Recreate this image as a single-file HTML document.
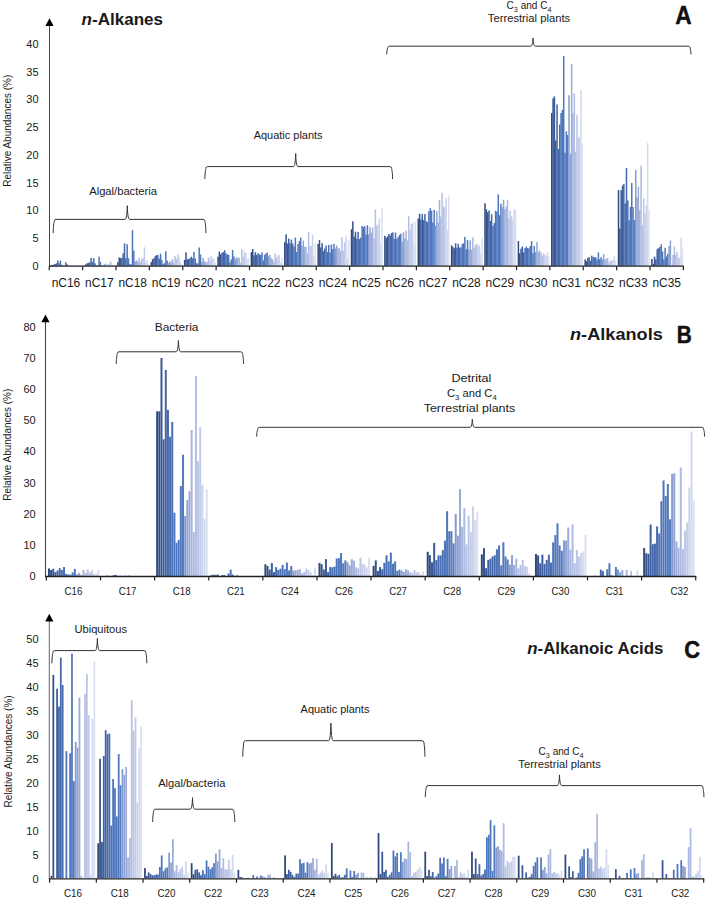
<!DOCTYPE html>
<html><head><meta charset="utf-8"><title>Figure</title>
<style>
html,body{margin:0;padding:0;background:#fff;}
svg{display:block;font-family:"Liberation Sans",sans-serif;fill:#1a1a1a;}
</style></head><body>
<svg width="708" height="900" viewBox="0 0 708 900">
<rect x="0" y="0" width="708" height="900" fill="#ffffff"/>
<rect x="50.40" y="265.30" width="1.50" height="0.50" fill="#30487a"/>
<rect x="51.73" y="265.00" width="1.50" height="0.80" fill="#34528c"/>
<rect x="53.05" y="264.60" width="1.50" height="1.20" fill="#395895"/>
<rect x="54.38" y="264.00" width="1.50" height="1.80" fill="#3d5e9d"/>
<rect x="55.70" y="263.30" width="1.50" height="2.50" fill="#4264a6"/>
<rect x="57.02" y="260.50" width="1.50" height="5.30" fill="#4468ab"/>
<rect x="58.35" y="263.30" width="1.50" height="2.50" fill="#476cb0"/>
<rect x="59.67" y="260.50" width="1.50" height="5.30" fill="#4a70b5"/>
<rect x="61.00" y="264.80" width="1.50" height="1.00" fill="#4c74ba"/>
<rect x="62.32" y="265.30" width="1.50" height="0.50" fill="#4e76bc"/>
<rect x="63.65" y="265.50" width="1.50" height="0.30" fill="#4f77bd"/>
<rect x="64.97" y="262.10" width="1.50" height="3.70" fill="#5078be"/>
<rect x="66.30" y="263.80" width="1.50" height="2.00" fill="#527ac0"/>
<rect x="67.62" y="265.30" width="1.50" height="0.50" fill="#869ace"/>
<rect x="68.95" y="265.50" width="1.50" height="0.30" fill="#91a3d3"/>
<rect x="70.28" y="265.50" width="1.50" height="0.30" fill="#9babd9"/>
<rect x="71.60" y="265.50" width="1.50" height="0.30" fill="#a6b4de"/>
<rect x="72.92" y="265.50" width="1.50" height="0.30" fill="#adbae1"/>
<rect x="74.25" y="265.50" width="1.50" height="0.30" fill="#b4c0e4"/>
<rect x="75.58" y="265.30" width="1.50" height="0.50" fill="#bbc5e6"/>
<rect x="76.90" y="265.30" width="1.50" height="0.50" fill="#c2cbe9"/>
<rect x="78.22" y="265.50" width="1.50" height="0.30" fill="#cad2ec"/>
<rect x="79.55" y="265.50" width="1.50" height="0.30" fill="#d3d9ee"/>
<rect x="80.88" y="265.50" width="1.50" height="0.30" fill="#dbe0f1"/>
<rect x="83.78" y="265.30" width="1.50" height="0.50" fill="#30487a"/>
<rect x="85.10" y="264.30" width="1.50" height="1.50" fill="#34528c"/>
<rect x="86.43" y="263.30" width="1.50" height="2.50" fill="#395895"/>
<rect x="87.75" y="262.80" width="1.50" height="3.00" fill="#3d5e9d"/>
<rect x="89.08" y="262.30" width="1.50" height="3.50" fill="#4264a6"/>
<rect x="90.40" y="257.90" width="1.50" height="7.90" fill="#4468ab"/>
<rect x="91.73" y="261.80" width="1.50" height="4.00" fill="#476cb0"/>
<rect x="93.05" y="258.10" width="1.50" height="7.70" fill="#4a70b5"/>
<rect x="94.38" y="263.30" width="1.50" height="2.50" fill="#4c74ba"/>
<rect x="95.70" y="265.30" width="1.50" height="0.50" fill="#4e76bc"/>
<rect x="97.03" y="265.30" width="1.50" height="0.50" fill="#4f77bd"/>
<rect x="98.35" y="256.70" width="1.50" height="9.10" fill="#5078be"/>
<rect x="99.68" y="261.80" width="1.50" height="4.00" fill="#527ac0"/>
<rect x="101.00" y="265.00" width="1.50" height="0.80" fill="#869ace"/>
<rect x="102.33" y="265.30" width="1.50" height="0.50" fill="#91a3d3"/>
<rect x="103.65" y="264.30" width="1.50" height="1.50" fill="#9babd9"/>
<rect x="104.98" y="263.60" width="1.50" height="2.20" fill="#a6b4de"/>
<rect x="106.30" y="265.30" width="1.50" height="0.50" fill="#adbae1"/>
<rect x="107.62" y="264.30" width="1.50" height="1.50" fill="#b4c0e4"/>
<rect x="108.95" y="262.80" width="1.50" height="3.00" fill="#bbc5e6"/>
<rect x="110.28" y="261.30" width="1.50" height="4.50" fill="#c2cbe9"/>
<rect x="111.60" y="264.80" width="1.50" height="1.00" fill="#cad2ec"/>
<rect x="112.93" y="265.30" width="1.50" height="0.50" fill="#d3d9ee"/>
<rect x="114.25" y="265.30" width="1.50" height="0.50" fill="#dbe0f1"/>
<rect x="117.15" y="262.10" width="1.50" height="3.70" fill="#30487a"/>
<rect x="118.48" y="257.50" width="1.50" height="8.30" fill="#34528c"/>
<rect x="119.80" y="258.20" width="1.50" height="7.60" fill="#395895"/>
<rect x="121.12" y="257.70" width="1.50" height="8.10" fill="#3d5e9d"/>
<rect x="122.45" y="253.20" width="1.50" height="12.60" fill="#4264a6"/>
<rect x="123.78" y="243.30" width="1.50" height="22.50" fill="#4468ab"/>
<rect x="125.10" y="258.20" width="1.50" height="7.60" fill="#476cb0"/>
<rect x="126.43" y="244.30" width="1.50" height="21.50" fill="#4a70b5"/>
<rect x="127.75" y="258.20" width="1.50" height="7.60" fill="#4c74ba"/>
<rect x="129.08" y="264.10" width="1.50" height="1.70" fill="#4e76bc"/>
<rect x="130.40" y="264.30" width="1.50" height="1.50" fill="#4f77bd"/>
<rect x="131.72" y="230.20" width="1.50" height="35.60" fill="#5078be"/>
<rect x="133.05" y="250.60" width="1.50" height="15.20" fill="#527ac0"/>
<rect x="134.38" y="261.60" width="1.50" height="4.20" fill="#869ace"/>
<rect x="135.70" y="260.20" width="1.50" height="5.60" fill="#91a3d3"/>
<rect x="137.03" y="262.10" width="1.50" height="3.70" fill="#9babd9"/>
<rect x="138.35" y="257.70" width="1.50" height="8.10" fill="#a6b4de"/>
<rect x="139.68" y="262.10" width="1.50" height="3.70" fill="#adbae1"/>
<rect x="141.00" y="258.80" width="1.50" height="7.00" fill="#b4c0e4"/>
<rect x="142.33" y="258.20" width="1.50" height="7.60" fill="#bbc5e6"/>
<rect x="143.65" y="247.30" width="1.50" height="18.50" fill="#c2cbe9"/>
<rect x="144.97" y="262.10" width="1.50" height="3.70" fill="#cad2ec"/>
<rect x="146.30" y="259.80" width="1.50" height="6.00" fill="#d3d9ee"/>
<rect x="147.62" y="263.80" width="1.50" height="2.00" fill="#dbe0f1"/>
<rect x="150.53" y="262.10" width="1.50" height="3.70" fill="#30487a"/>
<rect x="151.85" y="259.20" width="1.50" height="6.60" fill="#34528c"/>
<rect x="153.18" y="258.20" width="1.50" height="7.60" fill="#395895"/>
<rect x="154.50" y="256.20" width="1.50" height="9.60" fill="#3d5e9d"/>
<rect x="155.83" y="255.00" width="1.50" height="10.80" fill="#4264a6"/>
<rect x="157.15" y="255.20" width="1.50" height="10.60" fill="#4468ab"/>
<rect x="158.47" y="258.70" width="1.50" height="7.10" fill="#476cb0"/>
<rect x="159.80" y="253.70" width="1.50" height="12.10" fill="#4a70b5"/>
<rect x="161.12" y="260.20" width="1.50" height="5.60" fill="#4c74ba"/>
<rect x="162.45" y="264.10" width="1.50" height="1.70" fill="#4e76bc"/>
<rect x="163.78" y="263.10" width="1.50" height="2.70" fill="#4f77bd"/>
<rect x="165.10" y="251.30" width="1.50" height="14.50" fill="#5078be"/>
<rect x="166.43" y="260.70" width="1.50" height="5.10" fill="#527ac0"/>
<rect x="167.75" y="263.10" width="1.50" height="2.70" fill="#869ace"/>
<rect x="169.08" y="261.20" width="1.50" height="4.60" fill="#91a3d3"/>
<rect x="170.40" y="262.10" width="1.50" height="3.70" fill="#9babd9"/>
<rect x="171.72" y="259.20" width="1.50" height="6.60" fill="#a6b4de"/>
<rect x="173.05" y="262.60" width="1.50" height="3.20" fill="#adbae1"/>
<rect x="174.38" y="256.20" width="1.50" height="9.60" fill="#b4c0e4"/>
<rect x="175.70" y="258.70" width="1.50" height="7.10" fill="#bbc5e6"/>
<rect x="177.03" y="254.20" width="1.50" height="11.60" fill="#c2cbe9"/>
<rect x="178.35" y="257.20" width="1.50" height="8.60" fill="#cad2ec"/>
<rect x="179.68" y="261.60" width="1.50" height="4.20" fill="#d3d9ee"/>
<rect x="181.00" y="264.10" width="1.50" height="1.70" fill="#dbe0f1"/>
<rect x="183.90" y="259.90" width="1.50" height="5.90" fill="#30487a"/>
<rect x="185.22" y="252.40" width="1.50" height="13.40" fill="#34528c"/>
<rect x="186.55" y="259.40" width="1.50" height="6.40" fill="#395895"/>
<rect x="187.88" y="258.90" width="1.50" height="6.90" fill="#3d5e9d"/>
<rect x="189.20" y="258.40" width="1.50" height="7.40" fill="#4264a6"/>
<rect x="190.53" y="256.70" width="1.50" height="9.10" fill="#4468ab"/>
<rect x="191.85" y="258.40" width="1.50" height="7.40" fill="#476cb0"/>
<rect x="193.18" y="251.80" width="1.50" height="14.00" fill="#4a70b5"/>
<rect x="194.50" y="258.40" width="1.50" height="7.40" fill="#4c74ba"/>
<rect x="195.83" y="263.30" width="1.50" height="2.50" fill="#4e76bc"/>
<rect x="197.15" y="263.30" width="1.50" height="2.50" fill="#4f77bd"/>
<rect x="198.47" y="247.50" width="1.50" height="18.30" fill="#5078be"/>
<rect x="199.80" y="254.40" width="1.50" height="11.40" fill="#527ac0"/>
<rect x="201.12" y="261.80" width="1.50" height="4.00" fill="#869ace"/>
<rect x="202.45" y="257.90" width="1.50" height="7.90" fill="#91a3d3"/>
<rect x="203.78" y="261.30" width="1.50" height="4.50" fill="#9babd9"/>
<rect x="205.10" y="261.80" width="1.50" height="4.00" fill="#a6b4de"/>
<rect x="206.43" y="262.30" width="1.50" height="3.50" fill="#adbae1"/>
<rect x="207.75" y="257.40" width="1.50" height="8.40" fill="#b4c0e4"/>
<rect x="209.08" y="260.40" width="1.50" height="5.40" fill="#bbc5e6"/>
<rect x="210.40" y="255.90" width="1.50" height="9.90" fill="#c2cbe9"/>
<rect x="211.72" y="258.40" width="1.50" height="7.40" fill="#cad2ec"/>
<rect x="213.05" y="258.90" width="1.50" height="6.90" fill="#d3d9ee"/>
<rect x="214.38" y="262.30" width="1.50" height="3.50" fill="#dbe0f1"/>
<rect x="217.28" y="256.70" width="1.50" height="9.10" fill="#30487a"/>
<rect x="218.60" y="251.50" width="1.50" height="14.30" fill="#34528c"/>
<rect x="219.93" y="254.40" width="1.50" height="11.40" fill="#395895"/>
<rect x="221.25" y="252.90" width="1.50" height="12.90" fill="#3d5e9d"/>
<rect x="222.58" y="252.00" width="1.50" height="13.80" fill="#4264a6"/>
<rect x="223.90" y="250.20" width="1.50" height="15.60" fill="#4468ab"/>
<rect x="225.22" y="253.40" width="1.50" height="12.40" fill="#476cb0"/>
<rect x="226.55" y="254.40" width="1.50" height="11.40" fill="#4a70b5"/>
<rect x="227.88" y="254.90" width="1.50" height="10.90" fill="#4c74ba"/>
<rect x="229.20" y="262.30" width="1.50" height="3.50" fill="#4e76bc"/>
<rect x="230.53" y="259.40" width="1.50" height="6.40" fill="#4f77bd"/>
<rect x="231.85" y="250.00" width="1.50" height="15.80" fill="#5078be"/>
<rect x="233.18" y="256.40" width="1.50" height="9.40" fill="#527ac0"/>
<rect x="234.50" y="259.40" width="1.50" height="6.40" fill="#869ace"/>
<rect x="235.83" y="257.40" width="1.50" height="8.40" fill="#91a3d3"/>
<rect x="237.15" y="257.40" width="1.50" height="8.40" fill="#9babd9"/>
<rect x="238.47" y="257.90" width="1.50" height="7.90" fill="#a6b4de"/>
<rect x="239.80" y="262.80" width="1.50" height="3.00" fill="#adbae1"/>
<rect x="241.12" y="249.00" width="1.50" height="16.80" fill="#b4c0e4"/>
<rect x="242.45" y="256.90" width="1.50" height="8.90" fill="#bbc5e6"/>
<rect x="243.78" y="251.50" width="1.50" height="14.30" fill="#c2cbe9"/>
<rect x="245.10" y="252.90" width="1.50" height="12.90" fill="#cad2ec"/>
<rect x="246.43" y="259.40" width="1.50" height="6.40" fill="#d3d9ee"/>
<rect x="247.75" y="257.90" width="1.50" height="7.90" fill="#dbe0f1"/>
<rect x="250.65" y="252.20" width="1.50" height="13.60" fill="#30487a"/>
<rect x="251.97" y="249.00" width="1.50" height="16.80" fill="#34528c"/>
<rect x="253.30" y="255.40" width="1.50" height="10.40" fill="#395895"/>
<rect x="254.62" y="252.20" width="1.50" height="13.60" fill="#3d5e9d"/>
<rect x="255.95" y="254.90" width="1.50" height="10.90" fill="#4264a6"/>
<rect x="257.27" y="253.20" width="1.50" height="12.60" fill="#4468ab"/>
<rect x="258.60" y="254.40" width="1.50" height="11.40" fill="#476cb0"/>
<rect x="259.93" y="254.90" width="1.50" height="10.90" fill="#4a70b5"/>
<rect x="261.25" y="252.40" width="1.50" height="13.40" fill="#4c74ba"/>
<rect x="262.57" y="260.40" width="1.50" height="5.40" fill="#4e76bc"/>
<rect x="263.90" y="254.90" width="1.50" height="10.90" fill="#4f77bd"/>
<rect x="265.23" y="253.40" width="1.50" height="12.40" fill="#5078be"/>
<rect x="266.55" y="252.70" width="1.50" height="13.10" fill="#527ac0"/>
<rect x="267.88" y="256.40" width="1.50" height="9.40" fill="#869ace"/>
<rect x="269.20" y="254.90" width="1.50" height="10.90" fill="#91a3d3"/>
<rect x="270.52" y="258.40" width="1.50" height="7.40" fill="#9babd9"/>
<rect x="271.85" y="258.90" width="1.50" height="6.90" fill="#a6b4de"/>
<rect x="273.18" y="261.80" width="1.50" height="4.00" fill="#adbae1"/>
<rect x="274.50" y="253.70" width="1.50" height="12.10" fill="#b4c0e4"/>
<rect x="275.82" y="257.90" width="1.50" height="7.90" fill="#bbc5e6"/>
<rect x="277.15" y="255.40" width="1.50" height="10.40" fill="#c2cbe9"/>
<rect x="278.48" y="254.90" width="1.50" height="10.90" fill="#cad2ec"/>
<rect x="279.80" y="262.80" width="1.50" height="3.00" fill="#d3d9ee"/>
<rect x="281.12" y="257.40" width="1.50" height="8.40" fill="#dbe0f1"/>
<rect x="284.02" y="242.10" width="1.50" height="23.70" fill="#30487a"/>
<rect x="285.35" y="234.30" width="1.50" height="31.50" fill="#34528c"/>
<rect x="286.67" y="243.50" width="1.50" height="22.30" fill="#395895"/>
<rect x="288.00" y="238.60" width="1.50" height="27.20" fill="#3d5e9d"/>
<rect x="289.32" y="243.50" width="1.50" height="22.30" fill="#4264a6"/>
<rect x="290.65" y="239.60" width="1.50" height="26.20" fill="#4468ab"/>
<rect x="291.97" y="243.50" width="1.50" height="22.30" fill="#476cb0"/>
<rect x="293.30" y="246.50" width="1.50" height="19.30" fill="#4a70b5"/>
<rect x="294.62" y="237.60" width="1.50" height="28.20" fill="#4c74ba"/>
<rect x="295.95" y="252.00" width="1.50" height="13.80" fill="#4e76bc"/>
<rect x="297.27" y="244.00" width="1.50" height="21.80" fill="#4f77bd"/>
<rect x="298.60" y="241.10" width="1.50" height="24.70" fill="#5078be"/>
<rect x="299.92" y="237.60" width="1.50" height="28.20" fill="#527ac0"/>
<rect x="301.25" y="246.00" width="1.50" height="19.80" fill="#869ace"/>
<rect x="302.57" y="240.60" width="1.50" height="25.20" fill="#91a3d3"/>
<rect x="303.90" y="247.00" width="1.50" height="18.80" fill="#9babd9"/>
<rect x="305.22" y="246.50" width="1.50" height="19.30" fill="#a6b4de"/>
<rect x="306.55" y="252.90" width="1.50" height="12.90" fill="#adbae1"/>
<rect x="307.88" y="231.70" width="1.50" height="34.10" fill="#b4c0e4"/>
<rect x="309.20" y="246.00" width="1.50" height="19.80" fill="#bbc5e6"/>
<rect x="310.52" y="246.00" width="1.50" height="19.80" fill="#c2cbe9"/>
<rect x="311.85" y="234.60" width="1.50" height="31.20" fill="#cad2ec"/>
<rect x="313.17" y="255.90" width="1.50" height="9.90" fill="#d3d9ee"/>
<rect x="314.50" y="243.50" width="1.50" height="22.30" fill="#dbe0f1"/>
<rect x="317.40" y="244.00" width="1.50" height="21.80" fill="#30487a"/>
<rect x="318.72" y="240.10" width="1.50" height="25.70" fill="#34528c"/>
<rect x="320.05" y="247.50" width="1.50" height="18.30" fill="#395895"/>
<rect x="321.38" y="243.10" width="1.50" height="22.70" fill="#3d5e9d"/>
<rect x="322.70" y="251.00" width="1.50" height="14.80" fill="#4264a6"/>
<rect x="324.02" y="248.50" width="1.50" height="17.30" fill="#4468ab"/>
<rect x="325.35" y="245.50" width="1.50" height="20.30" fill="#476cb0"/>
<rect x="326.67" y="252.00" width="1.50" height="13.80" fill="#4a70b5"/>
<rect x="328.00" y="245.00" width="1.50" height="20.80" fill="#4c74ba"/>
<rect x="329.32" y="252.40" width="1.50" height="13.40" fill="#4e76bc"/>
<rect x="330.65" y="244.50" width="1.50" height="21.30" fill="#4f77bd"/>
<rect x="331.97" y="249.00" width="1.50" height="16.80" fill="#5078be"/>
<rect x="333.30" y="244.00" width="1.50" height="21.80" fill="#527ac0"/>
<rect x="334.62" y="248.50" width="1.50" height="17.30" fill="#869ace"/>
<rect x="335.95" y="245.50" width="1.50" height="20.30" fill="#91a3d3"/>
<rect x="337.27" y="248.50" width="1.50" height="17.30" fill="#9babd9"/>
<rect x="338.60" y="248.00" width="1.50" height="17.80" fill="#a6b4de"/>
<rect x="339.92" y="251.00" width="1.50" height="14.80" fill="#adbae1"/>
<rect x="341.25" y="237.10" width="1.50" height="28.70" fill="#b4c0e4"/>
<rect x="342.57" y="250.50" width="1.50" height="15.30" fill="#bbc5e6"/>
<rect x="343.90" y="242.10" width="1.50" height="23.70" fill="#c2cbe9"/>
<rect x="345.22" y="236.40" width="1.50" height="29.40" fill="#cad2ec"/>
<rect x="346.55" y="258.40" width="1.50" height="7.40" fill="#d3d9ee"/>
<rect x="347.88" y="239.60" width="1.50" height="26.20" fill="#dbe0f1"/>
<rect x="350.77" y="229.20" width="1.50" height="36.60" fill="#30487a"/>
<rect x="352.10" y="221.30" width="1.50" height="44.50" fill="#34528c"/>
<rect x="353.42" y="236.60" width="1.50" height="29.20" fill="#395895"/>
<rect x="354.75" y="231.70" width="1.50" height="34.10" fill="#3d5e9d"/>
<rect x="356.07" y="238.60" width="1.50" height="27.20" fill="#4264a6"/>
<rect x="357.40" y="231.90" width="1.50" height="33.90" fill="#4468ab"/>
<rect x="358.72" y="239.10" width="1.50" height="26.70" fill="#476cb0"/>
<rect x="360.05" y="237.60" width="1.50" height="28.20" fill="#4a70b5"/>
<rect x="361.38" y="225.90" width="1.50" height="39.90" fill="#4c74ba"/>
<rect x="362.70" y="227.20" width="1.50" height="38.60" fill="#4e76bc"/>
<rect x="364.02" y="226.20" width="1.50" height="39.60" fill="#4f77bd"/>
<rect x="365.35" y="234.60" width="1.50" height="31.20" fill="#5078be"/>
<rect x="366.67" y="225.20" width="1.50" height="40.60" fill="#527ac0"/>
<rect x="368.00" y="234.20" width="1.50" height="31.60" fill="#869ace"/>
<rect x="369.32" y="227.20" width="1.50" height="38.60" fill="#91a3d3"/>
<rect x="370.65" y="232.70" width="1.50" height="33.10" fill="#9babd9"/>
<rect x="371.97" y="227.50" width="1.50" height="38.30" fill="#a6b4de"/>
<rect x="373.30" y="238.60" width="1.50" height="27.20" fill="#adbae1"/>
<rect x="374.62" y="209.40" width="1.50" height="56.40" fill="#b4c0e4"/>
<rect x="375.95" y="225.70" width="1.50" height="40.10" fill="#bbc5e6"/>
<rect x="377.27" y="224.30" width="1.50" height="41.50" fill="#c2cbe9"/>
<rect x="378.60" y="218.80" width="1.50" height="47.00" fill="#cad2ec"/>
<rect x="379.92" y="243.10" width="1.50" height="22.70" fill="#d3d9ee"/>
<rect x="381.25" y="208.40" width="1.50" height="57.40" fill="#dbe0f1"/>
<rect x="384.15" y="235.90" width="1.50" height="29.90" fill="#30487a"/>
<rect x="385.47" y="237.90" width="1.50" height="27.90" fill="#34528c"/>
<rect x="386.80" y="236.40" width="1.50" height="29.40" fill="#395895"/>
<rect x="388.12" y="234.00" width="1.50" height="31.80" fill="#3d5e9d"/>
<rect x="389.45" y="235.40" width="1.50" height="30.40" fill="#4264a6"/>
<rect x="390.77" y="233.00" width="1.50" height="32.80" fill="#4468ab"/>
<rect x="392.10" y="232.30" width="1.50" height="33.50" fill="#476cb0"/>
<rect x="393.42" y="238.90" width="1.50" height="26.90" fill="#4a70b5"/>
<rect x="394.75" y="232.50" width="1.50" height="33.30" fill="#4c74ba"/>
<rect x="396.07" y="238.90" width="1.50" height="26.90" fill="#4e76bc"/>
<rect x="397.40" y="236.90" width="1.50" height="28.90" fill="#4f77bd"/>
<rect x="398.72" y="234.90" width="1.50" height="30.90" fill="#5078be"/>
<rect x="400.05" y="233.70" width="1.50" height="32.10" fill="#527ac0"/>
<rect x="401.38" y="241.90" width="1.50" height="23.90" fill="#869ace"/>
<rect x="402.70" y="232.30" width="1.50" height="33.50" fill="#91a3d3"/>
<rect x="404.02" y="238.40" width="1.50" height="27.40" fill="#9babd9"/>
<rect x="405.35" y="230.50" width="1.50" height="35.30" fill="#a6b4de"/>
<rect x="406.67" y="240.40" width="1.50" height="25.40" fill="#adbae1"/>
<rect x="408.00" y="216.10" width="1.50" height="49.70" fill="#b4c0e4"/>
<rect x="409.32" y="230.00" width="1.50" height="35.80" fill="#bbc5e6"/>
<rect x="410.65" y="224.10" width="1.50" height="41.70" fill="#c2cbe9"/>
<rect x="411.97" y="222.60" width="1.50" height="43.20" fill="#cad2ec"/>
<rect x="413.30" y="244.30" width="1.50" height="21.50" fill="#d3d9ee"/>
<rect x="414.62" y="221.60" width="1.50" height="44.20" fill="#dbe0f1"/>
<rect x="417.52" y="218.60" width="1.50" height="47.20" fill="#30487a"/>
<rect x="418.85" y="213.70" width="1.50" height="52.10" fill="#34528c"/>
<rect x="420.17" y="219.60" width="1.50" height="46.20" fill="#395895"/>
<rect x="421.50" y="214.00" width="1.50" height="51.80" fill="#3d5e9d"/>
<rect x="422.82" y="220.10" width="1.50" height="45.70" fill="#4264a6"/>
<rect x="424.15" y="214.00" width="1.50" height="51.80" fill="#4468ab"/>
<rect x="425.47" y="221.10" width="1.50" height="44.70" fill="#476cb0"/>
<rect x="426.80" y="222.10" width="1.50" height="43.70" fill="#4a70b5"/>
<rect x="428.12" y="211.20" width="1.50" height="54.60" fill="#4c74ba"/>
<rect x="429.45" y="208.20" width="1.50" height="57.60" fill="#4e76bc"/>
<rect x="430.77" y="210.70" width="1.50" height="55.10" fill="#4f77bd"/>
<rect x="432.10" y="222.60" width="1.50" height="43.20" fill="#5078be"/>
<rect x="433.42" y="209.90" width="1.50" height="55.90" fill="#527ac0"/>
<rect x="434.75" y="225.50" width="1.50" height="40.30" fill="#869ace"/>
<rect x="436.07" y="211.20" width="1.50" height="54.60" fill="#91a3d3"/>
<rect x="437.40" y="222.60" width="1.50" height="43.20" fill="#9babd9"/>
<rect x="438.72" y="199.80" width="1.50" height="66.00" fill="#a6b4de"/>
<rect x="440.05" y="216.60" width="1.50" height="49.20" fill="#adbae1"/>
<rect x="441.38" y="192.90" width="1.50" height="72.90" fill="#b4c0e4"/>
<rect x="442.70" y="206.30" width="1.50" height="59.50" fill="#bbc5e6"/>
<rect x="444.02" y="207.80" width="1.50" height="58.00" fill="#c2cbe9"/>
<rect x="445.35" y="197.80" width="1.50" height="68.00" fill="#cad2ec"/>
<rect x="446.67" y="230.50" width="1.50" height="35.30" fill="#d3d9ee"/>
<rect x="448.00" y="195.40" width="1.50" height="70.40" fill="#dbe0f1"/>
<rect x="450.90" y="245.50" width="1.50" height="20.30" fill="#30487a"/>
<rect x="452.22" y="247.10" width="1.50" height="18.70" fill="#34528c"/>
<rect x="453.55" y="248.30" width="1.50" height="17.50" fill="#395895"/>
<rect x="454.88" y="243.30" width="1.50" height="22.50" fill="#3d5e9d"/>
<rect x="456.20" y="247.80" width="1.50" height="18.00" fill="#4264a6"/>
<rect x="457.52" y="243.80" width="1.50" height="22.00" fill="#4468ab"/>
<rect x="458.85" y="247.50" width="1.50" height="18.30" fill="#476cb0"/>
<rect x="460.17" y="247.50" width="1.50" height="18.30" fill="#4a70b5"/>
<rect x="461.50" y="244.10" width="1.50" height="21.70" fill="#4c74ba"/>
<rect x="462.82" y="243.10" width="1.50" height="22.70" fill="#4e76bc"/>
<rect x="464.15" y="236.90" width="1.50" height="28.90" fill="#4f77bd"/>
<rect x="465.47" y="249.30" width="1.50" height="16.50" fill="#5078be"/>
<rect x="466.80" y="239.90" width="1.50" height="25.90" fill="#527ac0"/>
<rect x="468.12" y="249.30" width="1.50" height="16.50" fill="#869ace"/>
<rect x="469.45" y="240.40" width="1.50" height="25.40" fill="#91a3d3"/>
<rect x="470.77" y="249.80" width="1.50" height="16.00" fill="#9babd9"/>
<rect x="472.10" y="237.40" width="1.50" height="28.40" fill="#a6b4de"/>
<rect x="473.42" y="248.30" width="1.50" height="17.50" fill="#adbae1"/>
<rect x="474.75" y="244.80" width="1.50" height="21.00" fill="#b4c0e4"/>
<rect x="476.07" y="243.80" width="1.50" height="22.00" fill="#bbc5e6"/>
<rect x="477.40" y="246.30" width="1.50" height="19.50" fill="#c2cbe9"/>
<rect x="478.72" y="245.50" width="1.50" height="20.30" fill="#cad2ec"/>
<rect x="480.05" y="253.70" width="1.50" height="12.10" fill="#d3d9ee"/>
<rect x="481.38" y="237.90" width="1.50" height="27.90" fill="#dbe0f1"/>
<rect x="484.27" y="203.30" width="1.50" height="62.50" fill="#30487a"/>
<rect x="485.60" y="209.20" width="1.50" height="56.60" fill="#34528c"/>
<rect x="486.92" y="212.20" width="1.50" height="53.60" fill="#395895"/>
<rect x="488.25" y="210.50" width="1.50" height="55.30" fill="#3d5e9d"/>
<rect x="489.57" y="221.10" width="1.50" height="44.70" fill="#4264a6"/>
<rect x="490.90" y="214.20" width="1.50" height="51.60" fill="#4468ab"/>
<rect x="492.22" y="226.00" width="1.50" height="39.80" fill="#476cb0"/>
<rect x="493.55" y="223.10" width="1.50" height="42.70" fill="#4a70b5"/>
<rect x="494.88" y="210.70" width="1.50" height="55.10" fill="#4c74ba"/>
<rect x="496.20" y="211.70" width="1.50" height="54.10" fill="#4e76bc"/>
<rect x="497.52" y="194.40" width="1.50" height="71.40" fill="#4f77bd"/>
<rect x="498.85" y="215.20" width="1.50" height="50.60" fill="#5078be"/>
<rect x="500.17" y="203.80" width="1.50" height="62.00" fill="#527ac0"/>
<rect x="501.50" y="207.20" width="1.50" height="58.60" fill="#869ace"/>
<rect x="502.82" y="199.80" width="1.50" height="66.00" fill="#91a3d3"/>
<rect x="504.15" y="209.20" width="1.50" height="56.60" fill="#9babd9"/>
<rect x="505.47" y="206.30" width="1.50" height="59.50" fill="#a6b4de"/>
<rect x="506.80" y="199.80" width="1.50" height="66.00" fill="#adbae1"/>
<rect x="508.12" y="218.10" width="1.50" height="47.70" fill="#b4c0e4"/>
<rect x="509.45" y="210.70" width="1.50" height="55.10" fill="#bbc5e6"/>
<rect x="510.77" y="216.10" width="1.50" height="49.70" fill="#c2cbe9"/>
<rect x="512.10" y="219.60" width="1.50" height="46.20" fill="#cad2ec"/>
<rect x="513.42" y="209.20" width="1.50" height="56.60" fill="#d3d9ee"/>
<rect x="514.75" y="209.70" width="1.50" height="56.10" fill="#dbe0f1"/>
<rect x="517.65" y="241.10" width="1.50" height="24.70" fill="#30487a"/>
<rect x="518.98" y="253.20" width="1.50" height="12.60" fill="#34528c"/>
<rect x="520.30" y="248.70" width="1.50" height="17.10" fill="#395895"/>
<rect x="521.62" y="246.40" width="1.50" height="19.40" fill="#3d5e9d"/>
<rect x="522.95" y="252.40" width="1.50" height="13.40" fill="#4264a6"/>
<rect x="524.27" y="248.10" width="1.50" height="17.70" fill="#4468ab"/>
<rect x="525.60" y="246.70" width="1.50" height="19.10" fill="#476cb0"/>
<rect x="526.92" y="248.10" width="1.50" height="17.70" fill="#4a70b5"/>
<rect x="528.25" y="248.40" width="1.50" height="17.40" fill="#4c74ba"/>
<rect x="529.57" y="245.90" width="1.50" height="19.90" fill="#4e76bc"/>
<rect x="530.90" y="241.10" width="1.50" height="24.70" fill="#4f77bd"/>
<rect x="532.23" y="253.20" width="1.50" height="12.60" fill="#5078be"/>
<rect x="533.55" y="246.10" width="1.50" height="19.70" fill="#527ac0"/>
<rect x="534.88" y="252.10" width="1.50" height="13.70" fill="#869ace"/>
<rect x="536.20" y="241.90" width="1.50" height="23.90" fill="#91a3d3"/>
<rect x="537.52" y="252.40" width="1.50" height="13.40" fill="#9babd9"/>
<rect x="538.85" y="250.40" width="1.50" height="15.40" fill="#a6b4de"/>
<rect x="540.17" y="252.60" width="1.50" height="13.20" fill="#adbae1"/>
<rect x="541.50" y="255.70" width="1.50" height="10.10" fill="#b4c0e4"/>
<rect x="542.82" y="253.20" width="1.50" height="12.60" fill="#bbc5e6"/>
<rect x="544.15" y="254.90" width="1.50" height="10.90" fill="#c2cbe9"/>
<rect x="545.48" y="255.70" width="1.50" height="10.10" fill="#cad2ec"/>
<rect x="546.80" y="252.40" width="1.50" height="13.40" fill="#d3d9ee"/>
<rect x="548.12" y="256.60" width="1.50" height="9.20" fill="#dbe0f1"/>
<rect x="551.02" y="113.00" width="1.50" height="152.80" fill="#30487a"/>
<rect x="552.35" y="98.30" width="1.50" height="167.50" fill="#34528c"/>
<rect x="553.67" y="96.50" width="1.50" height="169.30" fill="#395895"/>
<rect x="555.00" y="140.50" width="1.50" height="125.30" fill="#3d5e9d"/>
<rect x="556.32" y="104.40" width="1.50" height="161.40" fill="#4264a6"/>
<rect x="557.65" y="149.00" width="1.50" height="116.80" fill="#4468ab"/>
<rect x="558.98" y="124.60" width="1.50" height="141.20" fill="#476cb0"/>
<rect x="560.30" y="113.00" width="1.50" height="152.80" fill="#4a70b5"/>
<rect x="561.62" y="109.90" width="1.50" height="155.90" fill="#4c74ba"/>
<rect x="562.95" y="56.10" width="1.50" height="209.70" fill="#4e76bc"/>
<rect x="564.27" y="152.70" width="1.50" height="113.10" fill="#4f77bd"/>
<rect x="565.60" y="131.30" width="1.50" height="134.50" fill="#5078be"/>
<rect x="566.92" y="135.00" width="1.50" height="130.80" fill="#527ac0"/>
<rect x="568.25" y="95.20" width="1.50" height="170.60" fill="#869ace"/>
<rect x="569.57" y="153.90" width="1.50" height="111.90" fill="#91a3d3"/>
<rect x="570.90" y="64.10" width="1.50" height="201.70" fill="#9babd9"/>
<rect x="572.23" y="113.00" width="1.50" height="152.80" fill="#a6b4de"/>
<rect x="573.55" y="93.40" width="1.50" height="172.40" fill="#adbae1"/>
<rect x="574.88" y="151.50" width="1.50" height="114.30" fill="#b4c0e4"/>
<rect x="576.20" y="114.80" width="1.50" height="151.00" fill="#bbc5e6"/>
<rect x="577.52" y="137.40" width="1.50" height="128.40" fill="#c2cbe9"/>
<rect x="578.85" y="137.40" width="1.50" height="128.40" fill="#cad2ec"/>
<rect x="580.17" y="89.70" width="1.50" height="176.10" fill="#d3d9ee"/>
<rect x="581.50" y="143.50" width="1.50" height="122.30" fill="#dbe0f1"/>
<rect x="584.40" y="259.40" width="1.50" height="6.40" fill="#30487a"/>
<rect x="585.73" y="261.10" width="1.50" height="4.70" fill="#34528c"/>
<rect x="587.05" y="258.00" width="1.50" height="7.80" fill="#395895"/>
<rect x="588.38" y="257.20" width="1.50" height="8.60" fill="#3d5e9d"/>
<rect x="589.70" y="260.80" width="1.50" height="5.00" fill="#4264a6"/>
<rect x="591.02" y="255.70" width="1.50" height="10.10" fill="#4468ab"/>
<rect x="592.35" y="256.90" width="1.50" height="8.90" fill="#476cb0"/>
<rect x="593.67" y="257.20" width="1.50" height="8.60" fill="#4a70b5"/>
<rect x="595.00" y="257.40" width="1.50" height="8.40" fill="#4c74ba"/>
<rect x="596.32" y="259.40" width="1.50" height="6.40" fill="#4e76bc"/>
<rect x="597.65" y="252.40" width="1.50" height="13.40" fill="#4f77bd"/>
<rect x="598.98" y="259.40" width="1.50" height="6.40" fill="#5078be"/>
<rect x="600.30" y="257.20" width="1.50" height="8.60" fill="#527ac0"/>
<rect x="601.62" y="259.40" width="1.50" height="6.40" fill="#869ace"/>
<rect x="602.95" y="254.00" width="1.50" height="11.80" fill="#91a3d3"/>
<rect x="604.27" y="259.40" width="1.50" height="6.40" fill="#9babd9"/>
<rect x="605.60" y="258.90" width="1.50" height="6.90" fill="#a6b4de"/>
<rect x="606.92" y="257.70" width="1.50" height="8.10" fill="#adbae1"/>
<rect x="608.25" y="262.80" width="1.50" height="3.00" fill="#b4c0e4"/>
<rect x="609.57" y="260.80" width="1.50" height="5.00" fill="#bbc5e6"/>
<rect x="610.90" y="260.50" width="1.50" height="5.30" fill="#c2cbe9"/>
<rect x="612.23" y="260.00" width="1.50" height="5.80" fill="#cad2ec"/>
<rect x="613.55" y="256.00" width="1.50" height="9.80" fill="#d3d9ee"/>
<rect x="614.88" y="260.80" width="1.50" height="5.00" fill="#dbe0f1"/>
<rect x="617.77" y="190.10" width="1.50" height="75.70" fill="#30487a"/>
<rect x="619.10" y="228.70" width="1.50" height="37.10" fill="#34528c"/>
<rect x="620.42" y="190.10" width="1.50" height="75.70" fill="#395895"/>
<rect x="621.75" y="185.70" width="1.50" height="80.10" fill="#3d5e9d"/>
<rect x="623.07" y="183.90" width="1.50" height="81.90" fill="#4264a6"/>
<rect x="624.40" y="203.40" width="1.50" height="62.40" fill="#4468ab"/>
<rect x="625.73" y="167.90" width="1.50" height="97.90" fill="#476cb0"/>
<rect x="627.05" y="200.30" width="1.50" height="65.50" fill="#4a70b5"/>
<rect x="628.38" y="220.40" width="1.50" height="45.40" fill="#4c74ba"/>
<rect x="629.70" y="207.00" width="1.50" height="58.80" fill="#4e76bc"/>
<rect x="631.02" y="183.00" width="1.50" height="82.80" fill="#4f77bd"/>
<rect x="632.35" y="207.00" width="1.50" height="58.80" fill="#5078be"/>
<rect x="633.67" y="220.00" width="1.50" height="45.80" fill="#527ac0"/>
<rect x="635.00" y="170.10" width="1.50" height="95.70" fill="#869ace"/>
<rect x="636.32" y="197.20" width="1.50" height="68.60" fill="#91a3d3"/>
<rect x="637.65" y="186.60" width="1.50" height="79.20" fill="#9babd9"/>
<rect x="638.98" y="210.10" width="1.50" height="55.70" fill="#a6b4de"/>
<rect x="640.30" y="165.70" width="1.50" height="100.10" fill="#adbae1"/>
<rect x="641.62" y="224.90" width="1.50" height="40.90" fill="#b4c0e4"/>
<rect x="642.95" y="198.10" width="1.50" height="67.70" fill="#bbc5e6"/>
<rect x="644.27" y="213.20" width="1.50" height="52.60" fill="#c2cbe9"/>
<rect x="645.60" y="205.20" width="1.50" height="60.60" fill="#cad2ec"/>
<rect x="646.92" y="143.00" width="1.50" height="122.80" fill="#d3d9ee"/>
<rect x="648.25" y="210.60" width="1.50" height="55.20" fill="#dbe0f1"/>
<rect x="651.15" y="258.90" width="1.50" height="6.90" fill="#30487a"/>
<rect x="652.48" y="263.90" width="1.50" height="1.90" fill="#34528c"/>
<rect x="653.80" y="256.60" width="1.50" height="9.20" fill="#395895"/>
<rect x="655.12" y="259.40" width="1.50" height="6.40" fill="#3d5e9d"/>
<rect x="656.45" y="249.20" width="1.50" height="16.60" fill="#4264a6"/>
<rect x="657.77" y="248.10" width="1.50" height="17.70" fill="#4468ab"/>
<rect x="659.10" y="247.00" width="1.50" height="18.80" fill="#476cb0"/>
<rect x="660.42" y="244.40" width="1.50" height="21.40" fill="#4a70b5"/>
<rect x="661.75" y="251.50" width="1.50" height="14.30" fill="#4c74ba"/>
<rect x="663.07" y="259.40" width="1.50" height="6.40" fill="#4e76bc"/>
<rect x="664.40" y="247.80" width="1.50" height="18.00" fill="#4f77bd"/>
<rect x="665.73" y="256.60" width="1.50" height="9.20" fill="#5078be"/>
<rect x="667.05" y="253.80" width="1.50" height="12.00" fill="#527ac0"/>
<rect x="668.38" y="245.90" width="1.50" height="19.90" fill="#869ace"/>
<rect x="669.70" y="240.50" width="1.50" height="25.30" fill="#91a3d3"/>
<rect x="672.35" y="254.90" width="1.50" height="10.90" fill="#a6b4de"/>
<rect x="673.67" y="246.40" width="1.50" height="19.40" fill="#adbae1"/>
<rect x="675.00" y="254.90" width="1.50" height="10.90" fill="#b4c0e4"/>
<rect x="676.32" y="251.80" width="1.50" height="14.00" fill="#bbc5e6"/>
<rect x="677.65" y="257.70" width="1.50" height="8.10" fill="#c2cbe9"/>
<rect x="678.98" y="257.70" width="1.50" height="8.10" fill="#cad2ec"/>
<rect x="680.30" y="237.40" width="1.50" height="28.40" fill="#d3d9ee"/>
<rect x="681.62" y="248.70" width="1.50" height="17.10" fill="#dbe0f1"/>
<path d="M49.50 23.30 V266.20" stroke="#444" stroke-width="1.05" fill="none"/>
<path d="M49.50 18.30 l4.1 7.6 h-8.2z" fill="#000"/>
<path d="M49.00 266.20 H683.98" stroke="#222" stroke-width="1.3" fill="none"/>
<path d="M49.25 266.20 v4.00" stroke="#222" stroke-width="1.2" fill="none"/>
<path d="M82.62 266.20 v4.00" stroke="#222" stroke-width="1.2" fill="none"/>
<path d="M116.00 266.20 v4.00" stroke="#222" stroke-width="1.2" fill="none"/>
<path d="M149.38 266.20 v4.00" stroke="#222" stroke-width="1.2" fill="none"/>
<path d="M182.75 266.20 v4.00" stroke="#222" stroke-width="1.2" fill="none"/>
<path d="M216.12 266.20 v4.00" stroke="#222" stroke-width="1.2" fill="none"/>
<path d="M249.50 266.20 v4.00" stroke="#222" stroke-width="1.2" fill="none"/>
<path d="M282.88 266.20 v4.00" stroke="#222" stroke-width="1.2" fill="none"/>
<path d="M316.25 266.20 v4.00" stroke="#222" stroke-width="1.2" fill="none"/>
<path d="M349.62 266.20 v4.00" stroke="#222" stroke-width="1.2" fill="none"/>
<path d="M383.00 266.20 v4.00" stroke="#222" stroke-width="1.2" fill="none"/>
<path d="M416.38 266.20 v4.00" stroke="#222" stroke-width="1.2" fill="none"/>
<path d="M449.75 266.20 v4.00" stroke="#222" stroke-width="1.2" fill="none"/>
<path d="M483.12 266.20 v4.00" stroke="#222" stroke-width="1.2" fill="none"/>
<path d="M516.50 266.20 v4.00" stroke="#222" stroke-width="1.2" fill="none"/>
<path d="M549.88 266.20 v4.00" stroke="#222" stroke-width="1.2" fill="none"/>
<path d="M583.25 266.20 v4.00" stroke="#222" stroke-width="1.2" fill="none"/>
<path d="M616.62 266.20 v4.00" stroke="#222" stroke-width="1.2" fill="none"/>
<path d="M650.00 266.20 v4.00" stroke="#222" stroke-width="1.2" fill="none"/>
<path d="M683.38 266.20 v4.00" stroke="#222" stroke-width="1.2" fill="none"/>
<text x="38.60" y="269.85" font-size="11" text-anchor="end" >0</text>
<text x="38.60" y="242.11" font-size="11" text-anchor="end" >5</text>
<text x="38.60" y="214.37" font-size="11" text-anchor="end" >10</text>
<text x="38.60" y="186.63" font-size="11" text-anchor="end" >15</text>
<text x="38.60" y="158.89" font-size="11" text-anchor="end" >20</text>
<text x="38.60" y="131.15" font-size="11" text-anchor="end" >25</text>
<text x="38.60" y="103.41" font-size="11" text-anchor="end" >30</text>
<text x="38.60" y="75.67" font-size="11" text-anchor="end" >35</text>
<text x="38.60" y="47.93" font-size="11" text-anchor="end" >40</text>
<text transform="translate(11.40 130.80) rotate(-90)" font-size="10.2" text-anchor="middle" textLength="112" lengthAdjust="spacingAndGlyphs">Relative Abundances (%)</text>
<text x="51.64" y="286.80" font-size="12" textLength="28.60" lengthAdjust="spacingAndGlyphs" >nC16</text>
<text x="85.01" y="286.80" font-size="12" textLength="28.60" lengthAdjust="spacingAndGlyphs" >nC17</text>
<text x="118.39" y="286.80" font-size="12" textLength="28.60" lengthAdjust="spacingAndGlyphs" >nC18</text>
<text x="151.76" y="286.80" font-size="12" textLength="28.60" lengthAdjust="spacingAndGlyphs" >nC19</text>
<text x="185.14" y="286.80" font-size="12" textLength="28.60" lengthAdjust="spacingAndGlyphs" >nC20</text>
<text x="218.51" y="286.80" font-size="12" textLength="28.60" lengthAdjust="spacingAndGlyphs" >nC21</text>
<text x="251.89" y="286.80" font-size="12" textLength="28.60" lengthAdjust="spacingAndGlyphs" >nC22</text>
<text x="285.26" y="286.80" font-size="12" textLength="28.60" lengthAdjust="spacingAndGlyphs" >nC23</text>
<text x="318.64" y="286.80" font-size="12" textLength="28.60" lengthAdjust="spacingAndGlyphs" >nC24</text>
<text x="352.01" y="286.80" font-size="12" textLength="28.60" lengthAdjust="spacingAndGlyphs" >nC25</text>
<text x="385.39" y="286.80" font-size="12" textLength="28.60" lengthAdjust="spacingAndGlyphs" >nC26</text>
<text x="418.76" y="286.80" font-size="12" textLength="28.60" lengthAdjust="spacingAndGlyphs" >nC27</text>
<text x="452.14" y="286.80" font-size="12" textLength="28.60" lengthAdjust="spacingAndGlyphs" >nC28</text>
<text x="485.51" y="286.80" font-size="12" textLength="28.60" lengthAdjust="spacingAndGlyphs" >nC29</text>
<text x="518.89" y="286.80" font-size="12" textLength="28.60" lengthAdjust="spacingAndGlyphs" >nC30</text>
<text x="552.26" y="286.80" font-size="12" textLength="28.60" lengthAdjust="spacingAndGlyphs" >nC31</text>
<text x="585.64" y="286.80" font-size="12" textLength="28.60" lengthAdjust="spacingAndGlyphs" >nC32</text>
<text x="619.01" y="286.80" font-size="12" textLength="28.60" lengthAdjust="spacingAndGlyphs" >nC33</text>
<text x="652.39" y="286.80" font-size="12" textLength="28.60" lengthAdjust="spacingAndGlyphs" >nC35</text>
<text x="81.60" y="24.60" font-size="16.5" textLength="81.40" lengthAdjust="spacingAndGlyphs" font-weight="bold" ><tspan font-style="italic">n</tspan>-Alkanes</text>
<text x="675.20" y="24.10" font-size="25" textLength="16.40" lengthAdjust="spacingAndGlyphs" font-weight="bold" stroke="#111" stroke-width="0.4" fill="#111">A</text>
<path d="M53.20 233.20 C53.20 226.30 54.00 222.40 54.25 220.90 Q54.50 219.40 56.00 219.40 H125.00 C126.50 219.40 127.10 213.23 127.30 205.70 C127.50 213.23 128.10 219.40 129.60 219.40 H203.10 Q204.60 219.40 204.85 220.90 C205.10 222.40 205.90 226.30 205.90 233.20" stroke="#333" stroke-width="1.0" fill="none"/>
<text x="89.20" y="194.80" font-size="10.2" textLength="67.80" lengthAdjust="spacingAndGlyphs" >Algal/bacteria</text>
<path d="M204.90 179.00 C204.90 172.80 205.70 169.60 205.95 168.10 Q206.20 166.60 207.70 166.60 H293.40 C294.90 166.60 295.50 160.75 295.70 153.60 C295.90 160.75 296.50 166.60 298.00 166.60 H389.80 Q391.30 166.60 391.55 168.10 C391.80 169.60 392.60 172.80 392.60 179.00" stroke="#333" stroke-width="1.0" fill="none"/>
<text x="253.70" y="138.90" font-size="10.2" textLength="68.90" lengthAdjust="spacingAndGlyphs" >Aquatic plants</text>
<path d="M386.70 54.30 C386.70 50.25 387.50 49.20 387.75 47.70 Q388.00 46.20 389.50 46.20 H530.70 C532.20 46.20 532.80 42.55 533.00 38.10 C533.20 42.55 533.80 46.20 535.30 46.20 H688.20 Q689.70 46.20 689.95 47.70 C690.20 49.20 691.00 50.25 691.00 54.30" stroke="#333" stroke-width="1.0" fill="none"/>
<text x="506.60" y="9.00" font-size="10.2" textLength="44.80" lengthAdjust="spacingAndGlyphs" >C<tspan font-size="7.3" dy="2.7">3</tspan><tspan dy="-2.7"> and C</tspan><tspan font-size="7.3" dy="2.7">4</tspan></text>
<text x="487.80" y="22.40" font-size="10.2" textLength="82.40" lengthAdjust="spacingAndGlyphs" >Terrestrial plants</text>
<rect x="47.95" y="568.50" width="2.00" height="7.70" fill="#30487a"/>
<rect x="50.10" y="570.00" width="2.00" height="6.20" fill="#34528c"/>
<rect x="52.26" y="568.80" width="2.00" height="7.40" fill="#395895"/>
<rect x="54.41" y="572.10" width="2.00" height="4.10" fill="#3d5e9d"/>
<rect x="56.57" y="570.50" width="2.00" height="5.70" fill="#4264a6"/>
<rect x="58.72" y="568.20" width="2.00" height="8.00" fill="#4468ab"/>
<rect x="60.87" y="570.00" width="2.00" height="6.20" fill="#476cb0"/>
<rect x="63.03" y="567.00" width="2.00" height="9.20" fill="#4a70b5"/>
<rect x="65.18" y="573.90" width="2.00" height="2.30" fill="#4c74ba"/>
<rect x="67.34" y="574.40" width="2.00" height="1.80" fill="#4e76bc"/>
<rect x="69.49" y="574.70" width="2.00" height="1.50" fill="#4f77bd"/>
<rect x="71.64" y="572.40" width="2.00" height="3.80" fill="#5078be"/>
<rect x="73.80" y="568.80" width="2.00" height="7.40" fill="#527ac0"/>
<rect x="75.95" y="574.40" width="2.00" height="1.80" fill="#869ace"/>
<rect x="78.11" y="572.90" width="2.00" height="3.30" fill="#91a3d3"/>
<rect x="80.26" y="574.90" width="2.00" height="1.30" fill="#9babd9"/>
<rect x="82.41" y="570.00" width="2.00" height="6.20" fill="#a6b4de"/>
<rect x="84.57" y="572.90" width="2.00" height="3.30" fill="#adbae1"/>
<rect x="86.72" y="569.50" width="2.00" height="6.70" fill="#b4c0e4"/>
<rect x="88.88" y="572.40" width="2.00" height="3.80" fill="#bbc5e6"/>
<rect x="91.03" y="570.50" width="2.00" height="5.70" fill="#c2cbe9"/>
<rect x="93.18" y="573.90" width="2.00" height="2.30" fill="#cad2ec"/>
<rect x="95.34" y="573.40" width="2.00" height="2.80" fill="#d3d9ee"/>
<rect x="97.49" y="570.00" width="2.00" height="6.20" fill="#dbe0f1"/>
<rect x="106.37" y="575.60" width="2.00" height="0.60" fill="#395895"/>
<rect x="112.83" y="575.00" width="2.00" height="1.20" fill="#4468ab"/>
<rect x="114.98" y="574.90" width="2.00" height="1.30" fill="#476cb0"/>
<rect x="119.29" y="575.70" width="2.00" height="0.50" fill="#4c74ba"/>
<rect x="123.60" y="575.70" width="2.00" height="0.50" fill="#4f77bd"/>
<rect x="127.91" y="575.60" width="2.00" height="0.60" fill="#527ac0"/>
<rect x="156.17" y="411.30" width="2.00" height="164.90" fill="#30487a"/>
<rect x="158.32" y="411.30" width="2.00" height="164.90" fill="#34528c"/>
<rect x="160.48" y="358.00" width="2.00" height="218.20" fill="#395895"/>
<rect x="162.63" y="439.30" width="2.00" height="136.90" fill="#3d5e9d"/>
<rect x="164.79" y="370.00" width="2.00" height="206.20" fill="#4264a6"/>
<rect x="166.94" y="410.00" width="2.00" height="166.20" fill="#4468ab"/>
<rect x="169.09" y="436.70" width="2.00" height="139.50" fill="#476cb0"/>
<rect x="171.25" y="422.00" width="2.00" height="154.20" fill="#4a70b5"/>
<rect x="173.40" y="512.70" width="2.00" height="63.50" fill="#4c74ba"/>
<rect x="175.56" y="542.70" width="2.00" height="33.50" fill="#4e76bc"/>
<rect x="177.71" y="540.00" width="2.00" height="36.20" fill="#4f77bd"/>
<rect x="179.86" y="486.00" width="2.00" height="90.20" fill="#5078be"/>
<rect x="182.02" y="454.70" width="2.00" height="121.50" fill="#527ac0"/>
<rect x="184.17" y="516.00" width="2.00" height="60.20" fill="#869ace"/>
<rect x="186.33" y="500.00" width="2.00" height="76.20" fill="#91a3d3"/>
<rect x="188.48" y="491.30" width="2.00" height="84.90" fill="#9babd9"/>
<rect x="190.63" y="430.00" width="2.00" height="146.20" fill="#a6b4de"/>
<rect x="192.79" y="532.00" width="2.00" height="44.20" fill="#adbae1"/>
<rect x="194.94" y="376.00" width="2.00" height="200.20" fill="#b4c0e4"/>
<rect x="197.10" y="461.30" width="2.00" height="114.90" fill="#bbc5e6"/>
<rect x="199.25" y="427.30" width="2.00" height="148.90" fill="#c2cbe9"/>
<rect x="201.40" y="484.70" width="2.00" height="91.50" fill="#cad2ec"/>
<rect x="203.56" y="518.70" width="2.00" height="57.50" fill="#d3d9ee"/>
<rect x="205.71" y="489.30" width="2.00" height="86.90" fill="#dbe0f1"/>
<rect x="210.28" y="575.20" width="2.00" height="1.00" fill="#30487a"/>
<rect x="212.43" y="574.70" width="2.00" height="1.50" fill="#34528c"/>
<rect x="214.59" y="574.90" width="2.00" height="1.30" fill="#395895"/>
<rect x="216.74" y="574.50" width="2.00" height="1.70" fill="#3d5e9d"/>
<rect x="221.05" y="575.20" width="2.00" height="1.00" fill="#4468ab"/>
<rect x="223.20" y="574.90" width="2.00" height="1.30" fill="#476cb0"/>
<rect x="227.51" y="573.50" width="2.00" height="2.70" fill="#4c74ba"/>
<rect x="229.67" y="569.60" width="2.00" height="6.60" fill="#4e76bc"/>
<rect x="231.82" y="574.50" width="2.00" height="1.70" fill="#4f77bd"/>
<rect x="236.13" y="575.20" width="2.00" height="1.00" fill="#527ac0"/>
<rect x="264.39" y="564.30" width="2.00" height="11.90" fill="#30487a"/>
<rect x="266.54" y="566.00" width="2.00" height="10.20" fill="#34528c"/>
<rect x="268.70" y="569.60" width="2.00" height="6.60" fill="#395895"/>
<rect x="270.85" y="563.10" width="2.00" height="13.10" fill="#3d5e9d"/>
<rect x="273.01" y="572.10" width="2.00" height="4.10" fill="#4264a6"/>
<rect x="275.16" y="567.20" width="2.00" height="9.00" fill="#4468ab"/>
<rect x="277.31" y="570.00" width="2.00" height="6.20" fill="#476cb0"/>
<rect x="279.47" y="568.70" width="2.00" height="7.50" fill="#4a70b5"/>
<rect x="281.62" y="564.90" width="2.00" height="11.30" fill="#4c74ba"/>
<rect x="283.78" y="569.20" width="2.00" height="7.00" fill="#4e76bc"/>
<rect x="285.93" y="562.60" width="2.00" height="13.60" fill="#4f77bd"/>
<rect x="288.08" y="570.40" width="2.00" height="5.80" fill="#5078be"/>
<rect x="290.24" y="566.00" width="2.00" height="10.20" fill="#527ac0"/>
<rect x="292.39" y="570.40" width="2.00" height="5.80" fill="#869ace"/>
<rect x="294.55" y="570.30" width="2.00" height="5.90" fill="#91a3d3"/>
<rect x="296.70" y="570.00" width="2.00" height="6.20" fill="#9babd9"/>
<rect x="298.85" y="569.00" width="2.00" height="7.20" fill="#a6b4de"/>
<rect x="301.01" y="573.40" width="2.00" height="2.80" fill="#adbae1"/>
<rect x="303.16" y="572.00" width="2.00" height="4.20" fill="#b4c0e4"/>
<rect x="305.32" y="568.60" width="2.00" height="7.60" fill="#bbc5e6"/>
<rect x="307.47" y="570.00" width="2.00" height="6.20" fill="#c2cbe9"/>
<rect x="309.62" y="572.10" width="2.00" height="4.10" fill="#cad2ec"/>
<rect x="311.78" y="575.50" width="2.00" height="0.70" fill="#d3d9ee"/>
<rect x="313.93" y="567.90" width="2.00" height="8.30" fill="#dbe0f1"/>
<rect x="318.50" y="562.90" width="2.00" height="13.30" fill="#30487a"/>
<rect x="320.65" y="564.20" width="2.00" height="12.00" fill="#34528c"/>
<rect x="322.81" y="569.50" width="2.00" height="6.70" fill="#395895"/>
<rect x="324.96" y="559.10" width="2.00" height="17.10" fill="#3d5e9d"/>
<rect x="327.12" y="572.00" width="2.00" height="4.20" fill="#4264a6"/>
<rect x="329.27" y="567.10" width="2.00" height="9.10" fill="#4468ab"/>
<rect x="331.42" y="567.30" width="2.00" height="8.90" fill="#476cb0"/>
<rect x="333.58" y="566.50" width="2.00" height="9.70" fill="#4a70b5"/>
<rect x="335.73" y="558.50" width="2.00" height="17.70" fill="#4c74ba"/>
<rect x="337.89" y="558.20" width="2.00" height="18.00" fill="#4e76bc"/>
<rect x="340.04" y="553.10" width="2.00" height="23.10" fill="#4f77bd"/>
<rect x="342.19" y="563.30" width="2.00" height="12.90" fill="#5078be"/>
<rect x="344.35" y="560.40" width="2.00" height="15.80" fill="#527ac0"/>
<rect x="346.50" y="562.20" width="2.00" height="14.00" fill="#869ace"/>
<rect x="348.66" y="565.30" width="2.00" height="10.90" fill="#91a3d3"/>
<rect x="350.81" y="559.30" width="2.00" height="16.90" fill="#9babd9"/>
<rect x="352.96" y="560.60" width="2.00" height="15.60" fill="#a6b4de"/>
<rect x="355.12" y="567.30" width="2.00" height="8.90" fill="#adbae1"/>
<rect x="357.27" y="568.40" width="2.00" height="7.80" fill="#b4c0e4"/>
<rect x="359.43" y="557.80" width="2.00" height="18.40" fill="#bbc5e6"/>
<rect x="361.58" y="563.70" width="2.00" height="12.50" fill="#c2cbe9"/>
<rect x="363.73" y="564.60" width="2.00" height="11.60" fill="#cad2ec"/>
<rect x="365.89" y="567.30" width="2.00" height="8.90" fill="#d3d9ee"/>
<rect x="368.04" y="557.80" width="2.00" height="18.40" fill="#dbe0f1"/>
<rect x="372.61" y="565.90" width="2.00" height="10.30" fill="#30487a"/>
<rect x="374.76" y="560.40" width="2.00" height="15.80" fill="#34528c"/>
<rect x="376.92" y="570.90" width="2.00" height="5.30" fill="#395895"/>
<rect x="379.07" y="567.10" width="2.00" height="9.10" fill="#3d5e9d"/>
<rect x="381.23" y="569.30" width="2.00" height="6.90" fill="#4264a6"/>
<rect x="383.38" y="562.90" width="2.00" height="13.30" fill="#4468ab"/>
<rect x="385.53" y="555.30" width="2.00" height="20.90" fill="#476cb0"/>
<rect x="387.69" y="561.20" width="2.00" height="15.00" fill="#4a70b5"/>
<rect x="389.84" y="552.60" width="2.00" height="23.60" fill="#4c74ba"/>
<rect x="392.00" y="563.70" width="2.00" height="12.50" fill="#4e76bc"/>
<rect x="394.15" y="561.40" width="2.00" height="14.80" fill="#4f77bd"/>
<rect x="396.30" y="570.90" width="2.00" height="5.30" fill="#5078be"/>
<rect x="398.46" y="569.70" width="2.00" height="6.50" fill="#527ac0"/>
<rect x="400.61" y="570.50" width="2.00" height="5.70" fill="#869ace"/>
<rect x="402.77" y="572.00" width="2.00" height="4.20" fill="#91a3d3"/>
<rect x="404.92" y="569.30" width="2.00" height="6.90" fill="#9babd9"/>
<rect x="407.07" y="570.40" width="2.00" height="5.80" fill="#a6b4de"/>
<rect x="409.23" y="572.20" width="2.00" height="4.00" fill="#adbae1"/>
<rect x="411.38" y="573.20" width="2.00" height="3.00" fill="#b4c0e4"/>
<rect x="413.54" y="570.10" width="2.00" height="6.10" fill="#bbc5e6"/>
<rect x="415.69" y="572.20" width="2.00" height="4.00" fill="#c2cbe9"/>
<rect x="417.84" y="572.20" width="2.00" height="4.00" fill="#cad2ec"/>
<rect x="420.00" y="574.60" width="2.00" height="1.60" fill="#d3d9ee"/>
<rect x="422.15" y="571.20" width="2.00" height="5.00" fill="#dbe0f1"/>
<rect x="426.72" y="551.80" width="2.00" height="24.40" fill="#30487a"/>
<rect x="428.87" y="555.10" width="2.00" height="21.10" fill="#34528c"/>
<rect x="431.03" y="562.30" width="2.00" height="13.90" fill="#395895"/>
<rect x="433.18" y="542.90" width="2.00" height="33.30" fill="#3d5e9d"/>
<rect x="435.34" y="560.10" width="2.00" height="16.10" fill="#4264a6"/>
<rect x="437.49" y="555.40" width="2.00" height="20.80" fill="#4468ab"/>
<rect x="439.64" y="555.40" width="2.00" height="20.80" fill="#476cb0"/>
<rect x="441.80" y="550.10" width="2.00" height="26.10" fill="#4a70b5"/>
<rect x="443.95" y="540.60" width="2.00" height="35.60" fill="#4c74ba"/>
<rect x="446.11" y="511.20" width="2.00" height="65.00" fill="#4e76bc"/>
<rect x="448.26" y="531.20" width="2.00" height="45.00" fill="#4f77bd"/>
<rect x="450.41" y="531.20" width="2.00" height="45.00" fill="#5078be"/>
<rect x="452.57" y="543.40" width="2.00" height="32.80" fill="#527ac0"/>
<rect x="454.72" y="514.00" width="2.00" height="62.20" fill="#869ace"/>
<rect x="456.88" y="535.60" width="2.00" height="40.60" fill="#91a3d3"/>
<rect x="459.03" y="489.20" width="2.00" height="87.00" fill="#9babd9"/>
<rect x="461.18" y="526.80" width="2.00" height="49.40" fill="#a6b4de"/>
<rect x="463.34" y="508.10" width="2.00" height="68.10" fill="#adbae1"/>
<rect x="465.49" y="544.50" width="2.00" height="31.70" fill="#b4c0e4"/>
<rect x="467.65" y="515.60" width="2.00" height="60.60" fill="#bbc5e6"/>
<rect x="469.80" y="532.10" width="2.00" height="44.10" fill="#c2cbe9"/>
<rect x="471.95" y="506.50" width="2.00" height="69.70" fill="#cad2ec"/>
<rect x="474.11" y="520.10" width="2.00" height="56.10" fill="#d3d9ee"/>
<rect x="476.26" y="512.30" width="2.00" height="63.90" fill="#dbe0f1"/>
<rect x="480.83" y="554.40" width="2.00" height="21.80" fill="#30487a"/>
<rect x="482.98" y="548.20" width="2.00" height="28.00" fill="#34528c"/>
<rect x="485.14" y="568.20" width="2.00" height="8.00" fill="#395895"/>
<rect x="487.29" y="559.90" width="2.00" height="16.30" fill="#3d5e9d"/>
<rect x="489.45" y="558.70" width="2.00" height="17.50" fill="#4264a6"/>
<rect x="491.60" y="556.40" width="2.00" height="19.80" fill="#4468ab"/>
<rect x="493.75" y="555.30" width="2.00" height="20.90" fill="#476cb0"/>
<rect x="495.91" y="549.30" width="2.00" height="26.90" fill="#4a70b5"/>
<rect x="498.06" y="545.40" width="2.00" height="30.80" fill="#4c74ba"/>
<rect x="500.22" y="565.40" width="2.00" height="10.80" fill="#4e76bc"/>
<rect x="502.37" y="542.30" width="2.00" height="33.90" fill="#4f77bd"/>
<rect x="504.52" y="556.50" width="2.00" height="19.70" fill="#5078be"/>
<rect x="506.68" y="559.50" width="2.00" height="16.70" fill="#527ac0"/>
<rect x="508.83" y="564.60" width="2.00" height="11.60" fill="#869ace"/>
<rect x="510.99" y="555.00" width="2.00" height="21.20" fill="#91a3d3"/>
<rect x="513.14" y="565.00" width="2.00" height="11.20" fill="#9babd9"/>
<rect x="515.29" y="558.70" width="2.00" height="17.50" fill="#a6b4de"/>
<rect x="517.45" y="568.40" width="2.00" height="7.80" fill="#adbae1"/>
<rect x="519.60" y="565.00" width="2.00" height="11.20" fill="#b4c0e4"/>
<rect x="521.76" y="559.90" width="2.00" height="16.30" fill="#bbc5e6"/>
<rect x="523.91" y="565.90" width="2.00" height="10.30" fill="#c2cbe9"/>
<rect x="526.06" y="566.70" width="2.00" height="9.50" fill="#cad2ec"/>
<rect x="528.22" y="573.30" width="2.00" height="2.90" fill="#d3d9ee"/>
<rect x="534.94" y="554.00" width="2.00" height="22.20" fill="#30487a"/>
<rect x="537.09" y="555.40" width="2.00" height="20.80" fill="#34528c"/>
<rect x="539.25" y="563.30" width="2.00" height="12.90" fill="#395895"/>
<rect x="541.40" y="554.60" width="2.00" height="21.60" fill="#3d5e9d"/>
<rect x="543.56" y="563.90" width="2.00" height="12.30" fill="#4264a6"/>
<rect x="545.71" y="559.90" width="2.00" height="16.30" fill="#4468ab"/>
<rect x="547.86" y="554.60" width="2.00" height="21.60" fill="#476cb0"/>
<rect x="550.02" y="562.60" width="2.00" height="13.60" fill="#4a70b5"/>
<rect x="552.17" y="542.30" width="2.00" height="33.90" fill="#4c74ba"/>
<rect x="554.33" y="535.10" width="2.00" height="41.10" fill="#4e76bc"/>
<rect x="556.48" y="523.20" width="2.00" height="53.00" fill="#4f77bd"/>
<rect x="558.63" y="545.50" width="2.00" height="30.70" fill="#5078be"/>
<rect x="560.79" y="550.80" width="2.00" height="25.40" fill="#527ac0"/>
<rect x="562.94" y="540.40" width="2.00" height="35.80" fill="#869ace"/>
<rect x="565.10" y="540.60" width="2.00" height="35.60" fill="#91a3d3"/>
<rect x="567.25" y="527.50" width="2.00" height="48.70" fill="#9babd9"/>
<rect x="569.40" y="549.80" width="2.00" height="26.40" fill="#a6b4de"/>
<rect x="571.56" y="524.50" width="2.00" height="51.70" fill="#adbae1"/>
<rect x="573.71" y="563.10" width="2.00" height="13.10" fill="#b4c0e4"/>
<rect x="575.87" y="549.90" width="2.00" height="26.30" fill="#bbc5e6"/>
<rect x="578.02" y="556.30" width="2.00" height="19.90" fill="#c2cbe9"/>
<rect x="580.17" y="552.90" width="2.00" height="23.30" fill="#cad2ec"/>
<rect x="582.33" y="551.60" width="2.00" height="24.60" fill="#d3d9ee"/>
<rect x="584.48" y="535.10" width="2.00" height="41.10" fill="#dbe0f1"/>
<rect x="593.36" y="575.70" width="2.00" height="0.50" fill="#395895"/>
<rect x="599.82" y="569.60" width="2.00" height="6.60" fill="#4468ab"/>
<rect x="601.97" y="571.10" width="2.00" height="5.10" fill="#476cb0"/>
<rect x="606.28" y="569.20" width="2.00" height="7.00" fill="#4c74ba"/>
<rect x="608.44" y="563.20" width="2.00" height="13.00" fill="#4e76bc"/>
<rect x="610.59" y="575.10" width="2.00" height="1.10" fill="#4f77bd"/>
<rect x="614.90" y="567.00" width="2.00" height="9.20" fill="#527ac0"/>
<rect x="617.05" y="569.40" width="2.00" height="6.80" fill="#869ace"/>
<rect x="619.21" y="572.10" width="2.00" height="4.10" fill="#91a3d3"/>
<rect x="621.36" y="570.00" width="2.00" height="6.20" fill="#9babd9"/>
<rect x="625.67" y="569.80" width="2.00" height="6.40" fill="#adbae1"/>
<rect x="629.98" y="570.90" width="2.00" height="5.30" fill="#bbc5e6"/>
<rect x="636.44" y="570.40" width="2.00" height="5.80" fill="#d3d9ee"/>
<rect x="643.16" y="548.10" width="2.00" height="28.10" fill="#30487a"/>
<rect x="645.31" y="553.30" width="2.00" height="22.90" fill="#34528c"/>
<rect x="647.47" y="553.80" width="2.00" height="22.40" fill="#395895"/>
<rect x="649.62" y="524.50" width="2.00" height="51.70" fill="#3d5e9d"/>
<rect x="651.78" y="544.20" width="2.00" height="32.00" fill="#4264a6"/>
<rect x="653.93" y="543.60" width="2.00" height="32.60" fill="#4468ab"/>
<rect x="656.08" y="526.40" width="2.00" height="49.80" fill="#476cb0"/>
<rect x="658.24" y="533.50" width="2.00" height="42.70" fill="#4a70b5"/>
<rect x="660.39" y="501.20" width="2.00" height="75.00" fill="#4c74ba"/>
<rect x="662.55" y="480.50" width="2.00" height="95.70" fill="#4e76bc"/>
<rect x="664.70" y="496.00" width="2.00" height="80.20" fill="#4f77bd"/>
<rect x="666.85" y="484.00" width="2.00" height="92.20" fill="#5078be"/>
<rect x="669.01" y="519.30" width="2.00" height="56.90" fill="#527ac0"/>
<rect x="671.16" y="474.00" width="2.00" height="102.20" fill="#869ace"/>
<rect x="673.32" y="473.20" width="2.00" height="103.00" fill="#91a3d3"/>
<rect x="675.47" y="541.50" width="2.00" height="34.70" fill="#9babd9"/>
<rect x="677.62" y="547.70" width="2.00" height="28.50" fill="#a6b4de"/>
<rect x="679.78" y="467.50" width="2.00" height="108.70" fill="#adbae1"/>
<rect x="681.93" y="549.10" width="2.00" height="27.10" fill="#b4c0e4"/>
<rect x="684.09" y="530.60" width="2.00" height="45.60" fill="#bbc5e6"/>
<rect x="686.24" y="522.60" width="2.00" height="53.60" fill="#c2cbe9"/>
<rect x="688.39" y="487.50" width="2.00" height="88.70" fill="#cad2ec"/>
<rect x="690.55" y="431.50" width="2.00" height="144.70" fill="#d3d9ee"/>
<rect x="692.70" y="500.50" width="2.00" height="75.70" fill="#dbe0f1"/>
<path d="M45.50 319.60 V576.50" stroke="#444" stroke-width="1.05" fill="none"/>
<path d="M45.50 314.60 l4.1 7.6 h-8.2z" fill="#000"/>
<path d="M45.00 576.50 H696.32" stroke="#222" stroke-width="1.3" fill="none"/>
<path d="M46.40 576.50 v4.00" stroke="#222" stroke-width="1.2" fill="none"/>
<path d="M100.51 576.50 v4.00" stroke="#222" stroke-width="1.2" fill="none"/>
<path d="M154.62 576.50 v4.00" stroke="#222" stroke-width="1.2" fill="none"/>
<path d="M208.73 576.50 v4.00" stroke="#222" stroke-width="1.2" fill="none"/>
<path d="M262.84 576.50 v4.00" stroke="#222" stroke-width="1.2" fill="none"/>
<path d="M316.95 576.50 v4.00" stroke="#222" stroke-width="1.2" fill="none"/>
<path d="M371.06 576.50 v4.00" stroke="#222" stroke-width="1.2" fill="none"/>
<path d="M425.17 576.50 v4.00" stroke="#222" stroke-width="1.2" fill="none"/>
<path d="M479.28 576.50 v4.00" stroke="#222" stroke-width="1.2" fill="none"/>
<path d="M533.39 576.50 v4.00" stroke="#222" stroke-width="1.2" fill="none"/>
<path d="M587.50 576.50 v4.00" stroke="#222" stroke-width="1.2" fill="none"/>
<path d="M641.61 576.50 v4.00" stroke="#222" stroke-width="1.2" fill="none"/>
<path d="M695.72 576.50 v4.00" stroke="#222" stroke-width="1.2" fill="none"/>
<text x="35.70" y="580.30" font-size="11" text-anchor="end" >0</text>
<text x="35.70" y="549.08" font-size="11" text-anchor="end" >10</text>
<text x="35.70" y="517.85" font-size="11" text-anchor="end" >20</text>
<text x="35.70" y="486.62" font-size="11" text-anchor="end" >30</text>
<text x="35.70" y="455.40" font-size="11" text-anchor="end" >40</text>
<text x="35.70" y="424.18" font-size="11" text-anchor="end" >50</text>
<text x="35.70" y="392.95" font-size="11" text-anchor="end" >60</text>
<text x="35.70" y="361.72" font-size="11" text-anchor="end" >70</text>
<text x="35.70" y="330.50" font-size="11" text-anchor="end" >80</text>
<text transform="translate(11.30 444.70) rotate(-90)" font-size="10.2" text-anchor="middle" textLength="112" lengthAdjust="spacingAndGlyphs">Relative Abundances (%)</text>
<text x="64.55" y="594.70" font-size="10.7" textLength="17.80" lengthAdjust="spacingAndGlyphs" >C16</text>
<text x="118.66" y="594.70" font-size="10.7" textLength="17.80" lengthAdjust="spacingAndGlyphs" >C17</text>
<text x="172.78" y="594.70" font-size="10.7" textLength="17.80" lengthAdjust="spacingAndGlyphs" >C18</text>
<text x="226.88" y="594.70" font-size="10.7" textLength="17.80" lengthAdjust="spacingAndGlyphs" >C21</text>
<text x="281.00" y="594.70" font-size="10.7" textLength="17.80" lengthAdjust="spacingAndGlyphs" >C24</text>
<text x="335.11" y="594.70" font-size="10.7" textLength="17.80" lengthAdjust="spacingAndGlyphs" >C26</text>
<text x="389.21" y="594.70" font-size="10.7" textLength="17.80" lengthAdjust="spacingAndGlyphs" >C27</text>
<text x="443.32" y="594.70" font-size="10.7" textLength="17.80" lengthAdjust="spacingAndGlyphs" >C28</text>
<text x="497.44" y="594.70" font-size="10.7" textLength="17.80" lengthAdjust="spacingAndGlyphs" >C29</text>
<text x="551.54" y="594.70" font-size="10.7" textLength="17.80" lengthAdjust="spacingAndGlyphs" >C30</text>
<text x="605.65" y="594.70" font-size="10.7" textLength="17.80" lengthAdjust="spacingAndGlyphs" >C31</text>
<text x="670.60" y="594.70" font-size="10.7" textLength="17.80" lengthAdjust="spacingAndGlyphs" >C32</text>
<text x="570.00" y="339.80" font-size="16.5" textLength="92.80" lengthAdjust="spacingAndGlyphs" font-weight="bold" ><tspan font-style="italic">n</tspan>-Alkanols</text>
<text x="676.70" y="342.60" font-size="24.6" textLength="15.00" lengthAdjust="spacingAndGlyphs" font-weight="bold" stroke="#111" stroke-width="0.5" fill="#111">B</text>
<path d="M116.30 363.80 C116.30 357.80 117.10 354.80 117.35 353.30 Q117.60 351.80 119.10 351.80 H176.10 C177.60 351.80 178.20 346.72 178.40 340.50 C178.60 346.72 179.20 351.80 180.70 351.80 H240.70 Q242.20 351.80 242.45 353.30 C242.70 354.80 243.50 357.80 243.50 363.80" stroke="#333" stroke-width="1.0" fill="none"/>
<text x="154.70" y="330.80" font-size="10.8" textLength="43.80" lengthAdjust="spacingAndGlyphs" >Bacteria</text>
<path d="M256.70 436.60 C256.70 431.95 257.50 430.30 257.75 428.80 Q258.00 427.30 259.50 427.30 H470.00 C471.50 427.30 472.10 423.65 472.30 419.20 C472.50 423.65 473.10 427.30 474.60 427.30 H701.80 Q703.30 427.30 703.55 428.80 C703.80 430.30 704.60 431.95 704.60 436.60" stroke="#333" stroke-width="1.0" fill="none"/>
<text x="451.50" y="381.90" font-size="10.6" textLength="39.80" lengthAdjust="spacingAndGlyphs" >Detrital</text>
<text x="447.00" y="396.80" font-size="10.6" textLength="49.70" lengthAdjust="spacingAndGlyphs" >C<tspan font-size="7.3" dy="2.7">3</tspan><tspan dy="-2.7"> and C</tspan><tspan font-size="7.3" dy="2.7">4</tspan></text>
<text x="423.70" y="411.80" font-size="10.6" textLength="91.60" lengthAdjust="spacingAndGlyphs" >Terrestrial plants</text>
<rect x="50.60" y="875.80" width="1.77" height="2.50" fill="#30487a"/>
<rect x="52.46" y="674.90" width="1.77" height="203.40" fill="#34528c"/>
<rect x="56.19" y="688.70" width="1.77" height="189.60" fill="#3d5e9d"/>
<rect x="58.06" y="706.60" width="1.77" height="171.70" fill="#4264a6"/>
<rect x="59.92" y="657.60" width="1.77" height="220.70" fill="#4468ab"/>
<rect x="61.78" y="685.00" width="1.77" height="193.30" fill="#476cb0"/>
<rect x="65.51" y="751.10" width="1.77" height="127.20" fill="#4c74ba"/>
<rect x="69.24" y="753.30" width="1.77" height="125.00" fill="#4f77bd"/>
<rect x="71.10" y="653.70" width="1.77" height="224.60" fill="#5078be"/>
<rect x="72.97" y="781.10" width="1.77" height="97.20" fill="#527ac0"/>
<rect x="74.83" y="742.00" width="1.77" height="136.30" fill="#869ace"/>
<rect x="76.70" y="747.60" width="1.77" height="130.70" fill="#91a3d3"/>
<rect x="78.56" y="697.50" width="1.77" height="180.80" fill="#9babd9"/>
<rect x="80.42" y="875.80" width="1.77" height="2.50" fill="#a6b4de"/>
<rect x="84.15" y="693.90" width="1.77" height="184.40" fill="#b4c0e4"/>
<rect x="86.02" y="674.20" width="1.77" height="204.10" fill="#bbc5e6"/>
<rect x="87.88" y="715.10" width="1.77" height="163.20" fill="#c2cbe9"/>
<rect x="89.74" y="875.30" width="1.77" height="3.00" fill="#cad2ec"/>
<rect x="91.61" y="718.60" width="1.77" height="159.70" fill="#d3d9ee"/>
<rect x="93.47" y="661.40" width="1.77" height="216.90" fill="#dbe0f1"/>
<rect x="97.32" y="843.30" width="1.77" height="35.00" fill="#30487a"/>
<rect x="99.18" y="758.90" width="1.77" height="119.40" fill="#34528c"/>
<rect x="101.05" y="841.90" width="1.77" height="36.40" fill="#395895"/>
<rect x="102.91" y="756.10" width="1.77" height="122.20" fill="#3d5e9d"/>
<rect x="104.78" y="730.20" width="1.77" height="148.10" fill="#4264a6"/>
<rect x="106.64" y="734.20" width="1.77" height="144.10" fill="#4468ab"/>
<rect x="108.50" y="733.50" width="1.77" height="144.80" fill="#476cb0"/>
<rect x="110.37" y="825.60" width="1.77" height="52.70" fill="#4a70b5"/>
<rect x="112.23" y="779.00" width="1.77" height="99.30" fill="#4c74ba"/>
<rect x="114.10" y="788.20" width="1.77" height="90.10" fill="#4e76bc"/>
<rect x="115.96" y="816.40" width="1.77" height="61.90" fill="#4f77bd"/>
<rect x="117.82" y="754.00" width="1.77" height="124.30" fill="#5078be"/>
<rect x="119.69" y="785.40" width="1.77" height="92.90" fill="#527ac0"/>
<rect x="121.55" y="769.10" width="1.77" height="109.20" fill="#869ace"/>
<rect x="123.42" y="774.80" width="1.77" height="103.50" fill="#91a3d3"/>
<rect x="125.28" y="767.00" width="1.77" height="111.30" fill="#9babd9"/>
<rect x="127.14" y="857.40" width="1.77" height="20.90" fill="#a6b4de"/>
<rect x="129.01" y="838.30" width="1.77" height="40.00" fill="#adbae1"/>
<rect x="130.87" y="700.30" width="1.77" height="178.00" fill="#b4c0e4"/>
<rect x="132.74" y="730.70" width="1.77" height="147.60" fill="#bbc5e6"/>
<rect x="134.60" y="717.20" width="1.77" height="161.10" fill="#c2cbe9"/>
<rect x="136.46" y="803.00" width="1.77" height="75.30" fill="#cad2ec"/>
<rect x="138.33" y="748.30" width="1.77" height="130.00" fill="#d3d9ee"/>
<rect x="140.19" y="726.40" width="1.77" height="151.90" fill="#dbe0f1"/>
<rect x="144.04" y="868.10" width="1.77" height="10.20" fill="#30487a"/>
<rect x="145.90" y="875.90" width="1.77" height="2.40" fill="#34528c"/>
<rect x="147.77" y="872.40" width="1.77" height="5.90" fill="#395895"/>
<rect x="149.63" y="874.10" width="1.77" height="4.20" fill="#3d5e9d"/>
<rect x="151.50" y="875.20" width="1.77" height="3.10" fill="#4264a6"/>
<rect x="153.36" y="875.20" width="1.77" height="3.10" fill="#4468ab"/>
<rect x="155.22" y="874.50" width="1.77" height="3.80" fill="#476cb0"/>
<rect x="157.09" y="874.50" width="1.77" height="3.80" fill="#4a70b5"/>
<rect x="158.95" y="867.00" width="1.77" height="11.30" fill="#4c74ba"/>
<rect x="160.82" y="855.40" width="1.77" height="22.90" fill="#4e76bc"/>
<rect x="162.68" y="871.20" width="1.77" height="7.10" fill="#4f77bd"/>
<rect x="164.54" y="868.40" width="1.77" height="9.90" fill="#5078be"/>
<rect x="166.41" y="867.40" width="1.77" height="10.90" fill="#527ac0"/>
<rect x="168.27" y="852.60" width="1.77" height="25.70" fill="#869ace"/>
<rect x="170.14" y="862.50" width="1.77" height="15.80" fill="#91a3d3"/>
<rect x="172.00" y="839.20" width="1.77" height="39.10" fill="#9babd9"/>
<rect x="173.86" y="871.20" width="1.77" height="7.10" fill="#a6b4de"/>
<rect x="175.73" y="865.00" width="1.77" height="13.30" fill="#adbae1"/>
<rect x="177.59" y="872.40" width="1.77" height="5.90" fill="#b4c0e4"/>
<rect x="179.46" y="869.30" width="1.77" height="9.00" fill="#bbc5e6"/>
<rect x="181.32" y="867.00" width="1.77" height="11.30" fill="#c2cbe9"/>
<rect x="183.18" y="874.50" width="1.77" height="3.80" fill="#cad2ec"/>
<rect x="185.05" y="861.10" width="1.77" height="17.20" fill="#d3d9ee"/>
<rect x="186.91" y="872.40" width="1.77" height="5.90" fill="#dbe0f1"/>
<rect x="190.76" y="863.20" width="1.77" height="15.10" fill="#30487a"/>
<rect x="192.62" y="874.10" width="1.77" height="4.20" fill="#34528c"/>
<rect x="194.49" y="869.80" width="1.77" height="8.50" fill="#395895"/>
<rect x="196.35" y="869.30" width="1.77" height="9.00" fill="#3d5e9d"/>
<rect x="198.22" y="872.40" width="1.77" height="5.90" fill="#4264a6"/>
<rect x="200.08" y="875.20" width="1.77" height="3.10" fill="#4468ab"/>
<rect x="201.94" y="870.20" width="1.77" height="8.10" fill="#476cb0"/>
<rect x="203.81" y="874.10" width="1.77" height="4.20" fill="#4a70b5"/>
<rect x="205.67" y="860.40" width="1.77" height="17.90" fill="#4c74ba"/>
<rect x="207.54" y="866.70" width="1.77" height="11.60" fill="#4e76bc"/>
<rect x="209.40" y="869.30" width="1.77" height="9.00" fill="#4f77bd"/>
<rect x="211.26" y="867.40" width="1.77" height="10.90" fill="#5078be"/>
<rect x="213.13" y="863.20" width="1.77" height="15.10" fill="#527ac0"/>
<rect x="214.99" y="853.70" width="1.77" height="24.60" fill="#869ace"/>
<rect x="216.86" y="861.40" width="1.77" height="16.90" fill="#91a3d3"/>
<rect x="218.72" y="849.10" width="1.77" height="29.20" fill="#9babd9"/>
<rect x="220.58" y="868.10" width="1.77" height="10.20" fill="#a6b4de"/>
<rect x="222.45" y="858.20" width="1.77" height="20.10" fill="#adbae1"/>
<rect x="224.31" y="869.30" width="1.77" height="9.00" fill="#b4c0e4"/>
<rect x="226.18" y="869.30" width="1.77" height="9.00" fill="#bbc5e6"/>
<rect x="228.04" y="859.70" width="1.77" height="18.60" fill="#c2cbe9"/>
<rect x="229.90" y="869.30" width="1.77" height="9.00" fill="#cad2ec"/>
<rect x="231.77" y="855.10" width="1.77" height="23.20" fill="#d3d9ee"/>
<rect x="233.63" y="872.40" width="1.77" height="5.90" fill="#dbe0f1"/>
<rect x="237.48" y="869.80" width="1.77" height="8.50" fill="#30487a"/>
<rect x="239.34" y="876.90" width="1.77" height="1.40" fill="#34528c"/>
<rect x="241.21" y="877.30" width="1.77" height="1.00" fill="#395895"/>
<rect x="243.07" y="878.00" width="1.77" height="0.30" fill="#3d5e9d"/>
<rect x="244.94" y="878.00" width="1.77" height="0.30" fill="#4264a6"/>
<rect x="246.80" y="877.90" width="1.77" height="0.40" fill="#4468ab"/>
<rect x="248.66" y="877.90" width="1.77" height="0.40" fill="#476cb0"/>
<rect x="252.39" y="875.10" width="1.77" height="3.20" fill="#4c74ba"/>
<rect x="256.12" y="876.50" width="1.77" height="1.80" fill="#4f77bd"/>
<rect x="259.85" y="875.50" width="1.77" height="2.80" fill="#527ac0"/>
<rect x="261.71" y="876.20" width="1.77" height="2.10" fill="#869ace"/>
<rect x="263.58" y="876.90" width="1.77" height="1.40" fill="#91a3d3"/>
<rect x="267.30" y="874.80" width="1.77" height="3.50" fill="#a6b4de"/>
<rect x="269.17" y="874.80" width="1.77" height="3.50" fill="#adbae1"/>
<rect x="271.03" y="878.00" width="1.77" height="0.30" fill="#b4c0e4"/>
<rect x="272.90" y="876.90" width="1.77" height="1.40" fill="#bbc5e6"/>
<rect x="284.20" y="855.40" width="1.77" height="22.90" fill="#30487a"/>
<rect x="286.06" y="874.10" width="1.77" height="4.20" fill="#34528c"/>
<rect x="287.93" y="869.80" width="1.77" height="8.50" fill="#395895"/>
<rect x="289.79" y="871.90" width="1.77" height="6.40" fill="#3d5e9d"/>
<rect x="291.66" y="874.80" width="1.77" height="3.50" fill="#4264a6"/>
<rect x="293.52" y="876.90" width="1.77" height="1.40" fill="#4468ab"/>
<rect x="295.38" y="873.60" width="1.77" height="4.70" fill="#476cb0"/>
<rect x="297.25" y="873.60" width="1.77" height="4.70" fill="#4a70b5"/>
<rect x="299.11" y="859.20" width="1.77" height="19.10" fill="#4c74ba"/>
<rect x="300.98" y="863.50" width="1.77" height="14.80" fill="#4e76bc"/>
<rect x="302.84" y="862.80" width="1.77" height="15.50" fill="#4f77bd"/>
<rect x="304.70" y="872.70" width="1.77" height="5.60" fill="#5078be"/>
<rect x="306.57" y="862.10" width="1.77" height="16.20" fill="#527ac0"/>
<rect x="308.43" y="863.50" width="1.77" height="14.80" fill="#869ace"/>
<rect x="310.30" y="862.80" width="1.77" height="15.50" fill="#91a3d3"/>
<rect x="312.16" y="858.20" width="1.77" height="20.10" fill="#9babd9"/>
<rect x="314.02" y="869.80" width="1.77" height="8.50" fill="#a6b4de"/>
<rect x="315.89" y="858.80" width="1.77" height="19.50" fill="#adbae1"/>
<rect x="317.75" y="874.80" width="1.77" height="3.50" fill="#b4c0e4"/>
<rect x="319.62" y="872.70" width="1.77" height="5.60" fill="#bbc5e6"/>
<rect x="321.48" y="870.50" width="1.77" height="7.80" fill="#c2cbe9"/>
<rect x="323.34" y="872.70" width="1.77" height="5.60" fill="#cad2ec"/>
<rect x="325.21" y="864.20" width="1.77" height="14.10" fill="#d3d9ee"/>
<rect x="327.07" y="873.40" width="1.77" height="4.90" fill="#dbe0f1"/>
<rect x="330.92" y="843.00" width="1.77" height="35.30" fill="#30487a"/>
<rect x="332.78" y="875.80" width="1.77" height="2.50" fill="#34528c"/>
<rect x="334.65" y="873.80" width="1.77" height="4.50" fill="#395895"/>
<rect x="336.51" y="876.20" width="1.77" height="2.10" fill="#3d5e9d"/>
<rect x="338.38" y="874.80" width="1.77" height="3.50" fill="#4264a6"/>
<rect x="340.24" y="877.60" width="1.77" height="0.70" fill="#4468ab"/>
<rect x="342.10" y="877.20" width="1.77" height="1.10" fill="#476cb0"/>
<rect x="343.97" y="874.80" width="1.77" height="3.50" fill="#4a70b5"/>
<rect x="345.83" y="868.40" width="1.77" height="9.90" fill="#4c74ba"/>
<rect x="349.56" y="870.50" width="1.77" height="7.80" fill="#4f77bd"/>
<rect x="351.42" y="876.90" width="1.77" height="1.40" fill="#5078be"/>
<rect x="353.29" y="871.00" width="1.77" height="7.30" fill="#527ac0"/>
<rect x="355.15" y="874.80" width="1.77" height="3.50" fill="#869ace"/>
<rect x="357.02" y="872.90" width="1.77" height="5.40" fill="#91a3d3"/>
<rect x="360.74" y="872.40" width="1.77" height="5.90" fill="#a6b4de"/>
<rect x="362.61" y="872.90" width="1.77" height="5.40" fill="#adbae1"/>
<rect x="366.34" y="877.20" width="1.77" height="1.10" fill="#bbc5e6"/>
<rect x="368.20" y="877.80" width="1.77" height="0.50" fill="#c2cbe9"/>
<rect x="370.06" y="876.60" width="1.77" height="1.70" fill="#cad2ec"/>
<rect x="371.93" y="877.80" width="1.77" height="0.50" fill="#d3d9ee"/>
<rect x="373.79" y="876.60" width="1.77" height="1.70" fill="#dbe0f1"/>
<rect x="377.64" y="833.10" width="1.77" height="45.20" fill="#30487a"/>
<rect x="379.50" y="874.10" width="1.77" height="4.20" fill="#34528c"/>
<rect x="381.37" y="851.70" width="1.77" height="26.60" fill="#395895"/>
<rect x="383.23" y="871.90" width="1.77" height="6.40" fill="#3d5e9d"/>
<rect x="385.10" y="869.80" width="1.77" height="8.50" fill="#4264a6"/>
<rect x="386.96" y="876.90" width="1.77" height="1.40" fill="#4468ab"/>
<rect x="388.82" y="874.80" width="1.77" height="3.50" fill="#476cb0"/>
<rect x="390.69" y="872.40" width="1.77" height="5.90" fill="#4a70b5"/>
<rect x="392.55" y="850.50" width="1.77" height="27.80" fill="#4c74ba"/>
<rect x="394.42" y="856.40" width="1.77" height="21.90" fill="#4e76bc"/>
<rect x="396.28" y="852.90" width="1.77" height="25.40" fill="#4f77bd"/>
<rect x="398.14" y="871.90" width="1.77" height="6.40" fill="#5078be"/>
<rect x="400.01" y="852.20" width="1.77" height="26.10" fill="#527ac0"/>
<rect x="401.87" y="862.10" width="1.77" height="16.20" fill="#869ace"/>
<rect x="403.74" y="858.50" width="1.77" height="19.80" fill="#91a3d3"/>
<rect x="405.60" y="859.20" width="1.77" height="19.10" fill="#9babd9"/>
<rect x="407.46" y="841.60" width="1.77" height="36.70" fill="#a6b4de"/>
<rect x="409.33" y="852.20" width="1.77" height="26.10" fill="#adbae1"/>
<rect x="411.19" y="876.20" width="1.77" height="2.10" fill="#b4c0e4"/>
<rect x="413.06" y="872.70" width="1.77" height="5.60" fill="#bbc5e6"/>
<rect x="414.92" y="871.90" width="1.77" height="6.40" fill="#c2cbe9"/>
<rect x="416.78" y="869.80" width="1.77" height="8.50" fill="#cad2ec"/>
<rect x="418.65" y="867.00" width="1.77" height="11.30" fill="#d3d9ee"/>
<rect x="420.51" y="869.80" width="1.77" height="8.50" fill="#dbe0f1"/>
<rect x="424.36" y="851.70" width="1.77" height="26.60" fill="#30487a"/>
<rect x="426.22" y="876.20" width="1.77" height="2.10" fill="#34528c"/>
<rect x="428.09" y="869.80" width="1.77" height="8.50" fill="#395895"/>
<rect x="429.95" y="876.20" width="1.77" height="2.10" fill="#3d5e9d"/>
<rect x="431.82" y="871.90" width="1.77" height="6.40" fill="#4264a6"/>
<rect x="433.68" y="877.60" width="1.77" height="0.70" fill="#4468ab"/>
<rect x="435.54" y="876.20" width="1.77" height="2.10" fill="#476cb0"/>
<rect x="437.41" y="873.40" width="1.77" height="4.90" fill="#4a70b5"/>
<rect x="439.27" y="857.80" width="1.77" height="20.50" fill="#4c74ba"/>
<rect x="441.14" y="863.50" width="1.77" height="14.80" fill="#4e76bc"/>
<rect x="443.00" y="857.40" width="1.77" height="20.90" fill="#4f77bd"/>
<rect x="444.86" y="876.20" width="1.77" height="2.10" fill="#5078be"/>
<rect x="446.73" y="858.80" width="1.77" height="19.50" fill="#527ac0"/>
<rect x="448.59" y="869.10" width="1.77" height="9.20" fill="#869ace"/>
<rect x="450.46" y="865.90" width="1.77" height="12.40" fill="#91a3d3"/>
<rect x="454.18" y="865.90" width="1.77" height="12.40" fill="#a6b4de"/>
<rect x="456.05" y="860.20" width="1.77" height="18.10" fill="#adbae1"/>
<rect x="457.91" y="876.90" width="1.77" height="1.40" fill="#b4c0e4"/>
<rect x="459.78" y="872.40" width="1.77" height="5.90" fill="#bbc5e6"/>
<rect x="461.64" y="874.10" width="1.77" height="4.20" fill="#c2cbe9"/>
<rect x="463.50" y="873.40" width="1.77" height="4.90" fill="#cad2ec"/>
<rect x="465.37" y="876.90" width="1.77" height="1.40" fill="#d3d9ee"/>
<rect x="467.23" y="869.50" width="1.77" height="8.80" fill="#dbe0f1"/>
<rect x="471.08" y="851.70" width="1.77" height="26.60" fill="#30487a"/>
<rect x="472.94" y="874.10" width="1.77" height="4.20" fill="#34528c"/>
<rect x="474.81" y="858.50" width="1.77" height="19.80" fill="#395895"/>
<rect x="476.67" y="874.10" width="1.77" height="4.20" fill="#3d5e9d"/>
<rect x="478.54" y="864.20" width="1.77" height="14.10" fill="#4264a6"/>
<rect x="480.40" y="875.50" width="1.77" height="2.80" fill="#4468ab"/>
<rect x="482.26" y="874.10" width="1.77" height="4.20" fill="#476cb0"/>
<rect x="484.13" y="869.50" width="1.77" height="8.80" fill="#4a70b5"/>
<rect x="485.99" y="837.30" width="1.77" height="41.00" fill="#4c74ba"/>
<rect x="487.86" y="834.80" width="1.77" height="43.50" fill="#4e76bc"/>
<rect x="489.72" y="820.10" width="1.77" height="58.20" fill="#4f77bd"/>
<rect x="491.58" y="871.00" width="1.77" height="7.30" fill="#5078be"/>
<rect x="493.45" y="825.30" width="1.77" height="53.00" fill="#527ac0"/>
<rect x="495.31" y="847.50" width="1.77" height="30.80" fill="#869ace"/>
<rect x="497.18" y="846.20" width="1.77" height="32.10" fill="#91a3d3"/>
<rect x="499.04" y="849.80" width="1.77" height="28.50" fill="#9babd9"/>
<rect x="500.90" y="851.20" width="1.77" height="27.10" fill="#a6b4de"/>
<rect x="502.77" y="823.20" width="1.77" height="55.10" fill="#adbae1"/>
<rect x="504.63" y="866.30" width="1.77" height="12.00" fill="#b4c0e4"/>
<rect x="506.50" y="861.10" width="1.77" height="17.20" fill="#bbc5e6"/>
<rect x="508.36" y="863.00" width="1.77" height="15.30" fill="#c2cbe9"/>
<rect x="510.22" y="861.40" width="1.77" height="16.90" fill="#cad2ec"/>
<rect x="512.09" y="856.80" width="1.77" height="21.50" fill="#d3d9ee"/>
<rect x="513.95" y="856.80" width="1.77" height="21.50" fill="#dbe0f1"/>
<rect x="517.80" y="855.70" width="1.77" height="22.60" fill="#30487a"/>
<rect x="521.53" y="865.30" width="1.77" height="13.00" fill="#395895"/>
<rect x="525.26" y="872.40" width="1.77" height="5.90" fill="#4264a6"/>
<rect x="527.12" y="877.60" width="1.77" height="0.70" fill="#4468ab"/>
<rect x="528.98" y="876.90" width="1.77" height="1.40" fill="#476cb0"/>
<rect x="530.85" y="874.10" width="1.77" height="4.20" fill="#4a70b5"/>
<rect x="532.71" y="865.90" width="1.77" height="12.40" fill="#4c74ba"/>
<rect x="534.58" y="862.10" width="1.77" height="16.20" fill="#4e76bc"/>
<rect x="536.44" y="857.40" width="1.77" height="20.90" fill="#4f77bd"/>
<rect x="540.17" y="857.40" width="1.77" height="20.90" fill="#527ac0"/>
<rect x="542.03" y="869.80" width="1.77" height="8.50" fill="#869ace"/>
<rect x="543.90" y="867.00" width="1.77" height="11.30" fill="#91a3d3"/>
<rect x="545.76" y="873.40" width="1.77" height="4.90" fill="#9babd9"/>
<rect x="547.62" y="854.60" width="1.77" height="23.70" fill="#a6b4de"/>
<rect x="549.49" y="849.10" width="1.77" height="29.20" fill="#adbae1"/>
<rect x="551.35" y="873.40" width="1.77" height="4.90" fill="#b4c0e4"/>
<rect x="553.22" y="871.90" width="1.77" height="6.40" fill="#bbc5e6"/>
<rect x="555.08" y="873.40" width="1.77" height="4.90" fill="#c2cbe9"/>
<rect x="556.94" y="873.40" width="1.77" height="4.90" fill="#cad2ec"/>
<rect x="558.81" y="874.80" width="1.77" height="3.50" fill="#d3d9ee"/>
<rect x="560.67" y="871.00" width="1.77" height="7.30" fill="#dbe0f1"/>
<rect x="564.52" y="854.60" width="1.77" height="23.70" fill="#30487a"/>
<rect x="568.25" y="866.30" width="1.77" height="12.00" fill="#395895"/>
<rect x="570.11" y="877.20" width="1.77" height="1.10" fill="#3d5e9d"/>
<rect x="571.98" y="871.20" width="1.77" height="7.10" fill="#4264a6"/>
<rect x="575.70" y="877.60" width="1.77" height="0.70" fill="#476cb0"/>
<rect x="577.57" y="872.90" width="1.77" height="5.40" fill="#4a70b5"/>
<rect x="579.43" y="859.20" width="1.77" height="19.10" fill="#4c74ba"/>
<rect x="581.30" y="856.40" width="1.77" height="21.90" fill="#4e76bc"/>
<rect x="583.16" y="849.30" width="1.77" height="29.00" fill="#4f77bd"/>
<rect x="586.89" y="848.40" width="1.77" height="29.90" fill="#527ac0"/>
<rect x="588.75" y="857.80" width="1.77" height="20.50" fill="#869ace"/>
<rect x="590.62" y="858.80" width="1.77" height="19.50" fill="#91a3d3"/>
<rect x="592.48" y="871.50" width="1.77" height="6.80" fill="#9babd9"/>
<rect x="594.34" y="842.30" width="1.77" height="36.00" fill="#a6b4de"/>
<rect x="596.21" y="813.80" width="1.77" height="64.50" fill="#adbae1"/>
<rect x="598.07" y="868.40" width="1.77" height="9.90" fill="#b4c0e4"/>
<rect x="599.94" y="866.70" width="1.77" height="11.60" fill="#bbc5e6"/>
<rect x="601.80" y="869.10" width="1.77" height="9.20" fill="#c2cbe9"/>
<rect x="603.66" y="867.70" width="1.77" height="10.60" fill="#cad2ec"/>
<rect x="605.53" y="849.30" width="1.77" height="29.00" fill="#d3d9ee"/>
<rect x="607.39" y="864.90" width="1.77" height="13.40" fill="#dbe0f1"/>
<rect x="614.97" y="869.10" width="1.77" height="9.20" fill="#395895"/>
<rect x="618.70" y="875.80" width="1.77" height="2.50" fill="#4264a6"/>
<rect x="622.42" y="877.90" width="1.77" height="0.40" fill="#476cb0"/>
<rect x="626.15" y="872.90" width="1.77" height="5.40" fill="#4c74ba"/>
<rect x="629.88" y="869.40" width="1.77" height="8.90" fill="#4f77bd"/>
<rect x="633.61" y="868.00" width="1.77" height="10.30" fill="#527ac0"/>
<rect x="635.47" y="873.80" width="1.77" height="4.50" fill="#869ace"/>
<rect x="637.34" y="872.90" width="1.77" height="5.40" fill="#91a3d3"/>
<rect x="641.06" y="859.90" width="1.77" height="18.40" fill="#a6b4de"/>
<rect x="642.93" y="854.30" width="1.77" height="24.00" fill="#adbae1"/>
<rect x="644.79" y="877.60" width="1.77" height="0.70" fill="#b4c0e4"/>
<rect x="646.66" y="877.20" width="1.77" height="1.10" fill="#bbc5e6"/>
<rect x="648.52" y="876.90" width="1.77" height="1.40" fill="#c2cbe9"/>
<rect x="652.25" y="872.20" width="1.77" height="6.10" fill="#d3d9ee"/>
<rect x="661.69" y="860.20" width="1.77" height="18.10" fill="#395895"/>
<rect x="665.42" y="874.10" width="1.77" height="4.20" fill="#4264a6"/>
<rect x="672.87" y="869.80" width="1.77" height="8.50" fill="#4c74ba"/>
<rect x="676.60" y="863.90" width="1.77" height="14.40" fill="#4f77bd"/>
<rect x="680.33" y="860.20" width="1.77" height="18.10" fill="#527ac0"/>
<rect x="682.19" y="865.90" width="1.77" height="12.40" fill="#869ace"/>
<rect x="684.06" y="867.00" width="1.77" height="11.30" fill="#91a3d3"/>
<rect x="687.78" y="847.20" width="1.77" height="31.10" fill="#a6b4de"/>
<rect x="689.65" y="828.20" width="1.77" height="50.10" fill="#adbae1"/>
<rect x="691.51" y="876.20" width="1.77" height="2.10" fill="#b4c0e4"/>
<rect x="693.38" y="876.90" width="1.77" height="1.40" fill="#bbc5e6"/>
<rect x="695.24" y="874.10" width="1.77" height="4.20" fill="#c2cbe9"/>
<rect x="697.10" y="871.20" width="1.77" height="7.10" fill="#cad2ec"/>
<rect x="698.97" y="856.80" width="1.77" height="21.50" fill="#d3d9ee"/>
<rect x="700.83" y="875.50" width="1.77" height="2.80" fill="#dbe0f1"/>
<path d="M49.30 618.80 V878.80" stroke="#6a6a6a" stroke-width="1.05" fill="none"/>
<path d="M49.30 613.80 l4.1 7.6 h-8.2z" fill="#000"/>
<path d="M48.80 878.80 H704.28" stroke="#222" stroke-width="1.3" fill="none"/>
<path d="M49.60 878.80 v4.00" stroke="#222" stroke-width="1.2" fill="none"/>
<path d="M96.32 878.80 v4.00" stroke="#222" stroke-width="1.2" fill="none"/>
<path d="M143.04 878.80 v4.00" stroke="#222" stroke-width="1.2" fill="none"/>
<path d="M189.76 878.80 v4.00" stroke="#222" stroke-width="1.2" fill="none"/>
<path d="M236.48 878.80 v4.00" stroke="#222" stroke-width="1.2" fill="none"/>
<path d="M283.20 878.80 v4.00" stroke="#222" stroke-width="1.2" fill="none"/>
<path d="M329.92 878.80 v4.00" stroke="#222" stroke-width="1.2" fill="none"/>
<path d="M376.64 878.80 v4.00" stroke="#222" stroke-width="1.2" fill="none"/>
<path d="M423.36 878.80 v4.00" stroke="#222" stroke-width="1.2" fill="none"/>
<path d="M470.08 878.80 v4.00" stroke="#222" stroke-width="1.2" fill="none"/>
<path d="M516.80 878.80 v4.00" stroke="#222" stroke-width="1.2" fill="none"/>
<path d="M563.52 878.80 v4.00" stroke="#222" stroke-width="1.2" fill="none"/>
<path d="M610.24 878.80 v4.00" stroke="#222" stroke-width="1.2" fill="none"/>
<path d="M656.96 878.80 v4.00" stroke="#222" stroke-width="1.2" fill="none"/>
<path d="M703.68 878.80 v4.00" stroke="#222" stroke-width="1.2" fill="none"/>
<text x="38.60" y="883.00" font-size="11" text-anchor="end" >0</text>
<text x="38.60" y="859.04" font-size="11" text-anchor="end" >5</text>
<text x="38.60" y="835.09" font-size="11" text-anchor="end" >10</text>
<text x="38.60" y="811.13" font-size="11" text-anchor="end" >15</text>
<text x="38.60" y="787.18" font-size="11" text-anchor="end" >20</text>
<text x="38.60" y="763.23" font-size="11" text-anchor="end" >25</text>
<text x="38.60" y="739.27" font-size="11" text-anchor="end" >30</text>
<text x="38.60" y="715.32" font-size="11" text-anchor="end" >35</text>
<text x="38.60" y="691.36" font-size="11" text-anchor="end" >40</text>
<text x="38.60" y="667.40" font-size="11" text-anchor="end" >45</text>
<text x="38.60" y="643.45" font-size="11" text-anchor="end" >50</text>
<text transform="translate(11.50 751.40) rotate(-90)" font-size="10.2" text-anchor="middle" textLength="112" lengthAdjust="spacingAndGlyphs">Relative Abundances (%)</text>
<text x="63.96" y="897.30" font-size="10.7" textLength="18.00" lengthAdjust="spacingAndGlyphs" >C16</text>
<text x="110.68" y="897.30" font-size="10.7" textLength="18.00" lengthAdjust="spacingAndGlyphs" >C18</text>
<text x="157.40" y="897.30" font-size="10.7" textLength="18.00" lengthAdjust="spacingAndGlyphs" >C20</text>
<text x="204.12" y="897.30" font-size="10.7" textLength="18.00" lengthAdjust="spacingAndGlyphs" >C22</text>
<text x="250.84" y="897.30" font-size="10.7" textLength="18.00" lengthAdjust="spacingAndGlyphs" >C23</text>
<text x="297.56" y="897.30" font-size="10.7" textLength="18.00" lengthAdjust="spacingAndGlyphs" >C24</text>
<text x="344.28" y="897.30" font-size="10.7" textLength="18.00" lengthAdjust="spacingAndGlyphs" >C25</text>
<text x="391.00" y="897.30" font-size="10.7" textLength="18.00" lengthAdjust="spacingAndGlyphs" >C26</text>
<text x="437.72" y="897.30" font-size="10.7" textLength="18.00" lengthAdjust="spacingAndGlyphs" >C27</text>
<text x="484.44" y="897.30" font-size="10.7" textLength="18.00" lengthAdjust="spacingAndGlyphs" >C28</text>
<text x="531.16" y="897.30" font-size="10.7" textLength="18.00" lengthAdjust="spacingAndGlyphs" >C29</text>
<text x="577.88" y="897.30" font-size="10.7" textLength="18.00" lengthAdjust="spacingAndGlyphs" >C30</text>
<text x="624.60" y="897.30" font-size="10.7" textLength="18.00" lengthAdjust="spacingAndGlyphs" >C31</text>
<text x="671.32" y="897.30" font-size="10.7" textLength="18.00" lengthAdjust="spacingAndGlyphs" >C32</text>
<text x="527.20" y="654.40" font-size="16.5" textLength="136.20" lengthAdjust="spacingAndGlyphs" font-weight="bold" ><tspan font-style="italic">n</tspan>-Alkanoic Acids</text>
<text x="684.30" y="658.00" font-size="24.6" textLength="15.80" lengthAdjust="spacingAndGlyphs" font-weight="bold" stroke="#111" stroke-width="0.5" fill="#111">C</text>
<path d="M51.90 663.30 C51.90 656.95 52.70 653.60 52.95 652.10 Q53.20 650.60 54.70 650.60 H95.10 C96.60 650.60 97.20 645.11 97.40 638.40 C97.60 645.11 98.20 650.60 99.70 650.60 H144.00 Q145.50 650.60 145.75 652.10 C146.00 653.60 146.80 656.95 146.80 663.30" stroke="#333" stroke-width="1.0" fill="none"/>
<text x="74.50" y="632.80" font-size="10.2" textLength="52.50" lengthAdjust="spacingAndGlyphs" >Ubiquitous</text>
<path d="M152.70 822.00 C152.70 815.60 153.50 812.20 153.75 810.70 Q154.00 809.20 155.50 809.20 H190.20 C191.70 809.20 192.30 804.03 192.50 797.70 C192.70 804.03 193.30 809.20 194.80 809.20 H232.00 Q233.50 809.20 233.75 810.70 C234.00 812.20 234.80 815.60 234.80 822.00" stroke="#333" stroke-width="1.0" fill="none"/>
<text x="158.20" y="787.10" font-size="10.2" textLength="67.30" lengthAdjust="spacingAndGlyphs" >Algal/bacteria</text>
<path d="M242.80 756.70 C242.80 748.70 243.60 743.70 243.85 742.20 Q244.10 740.70 245.60 740.70 H328.60 C330.10 740.70 330.70 732.83 330.90 723.20 C331.10 732.83 331.70 740.70 333.20 740.70 H422.10 Q423.60 740.70 423.85 742.20 C424.10 743.70 424.90 748.70 424.90 756.70" stroke="#333" stroke-width="1.0" fill="none"/>
<text x="300.60" y="713.40" font-size="10.2" textLength="68.80" lengthAdjust="spacingAndGlyphs" >Aquatic plants</text>
<path d="M425.30 797.10 C425.30 791.35 426.10 788.60 426.35 787.10 Q426.60 785.60 428.10 785.60 H557.20 C558.70 785.60 559.30 780.78 559.50 774.90 C559.70 780.78 560.30 785.60 561.80 785.60 H701.10 Q702.60 785.60 702.85 787.10 C703.10 788.60 703.90 791.35 703.90 797.10" stroke="#333" stroke-width="1.0" fill="none"/>
<text x="538.60" y="754.90" font-size="10.2" textLength="44.80" lengthAdjust="spacingAndGlyphs" >C<tspan font-size="7.3" dy="2.7">3</tspan><tspan dy="-2.7"> and C</tspan><tspan font-size="7.3" dy="2.7">4</tspan></text>
<text x="518.30" y="768.00" font-size="10.2" textLength="82.50" lengthAdjust="spacingAndGlyphs" >Terrestrial plants</text>
</svg>
</body></html>
